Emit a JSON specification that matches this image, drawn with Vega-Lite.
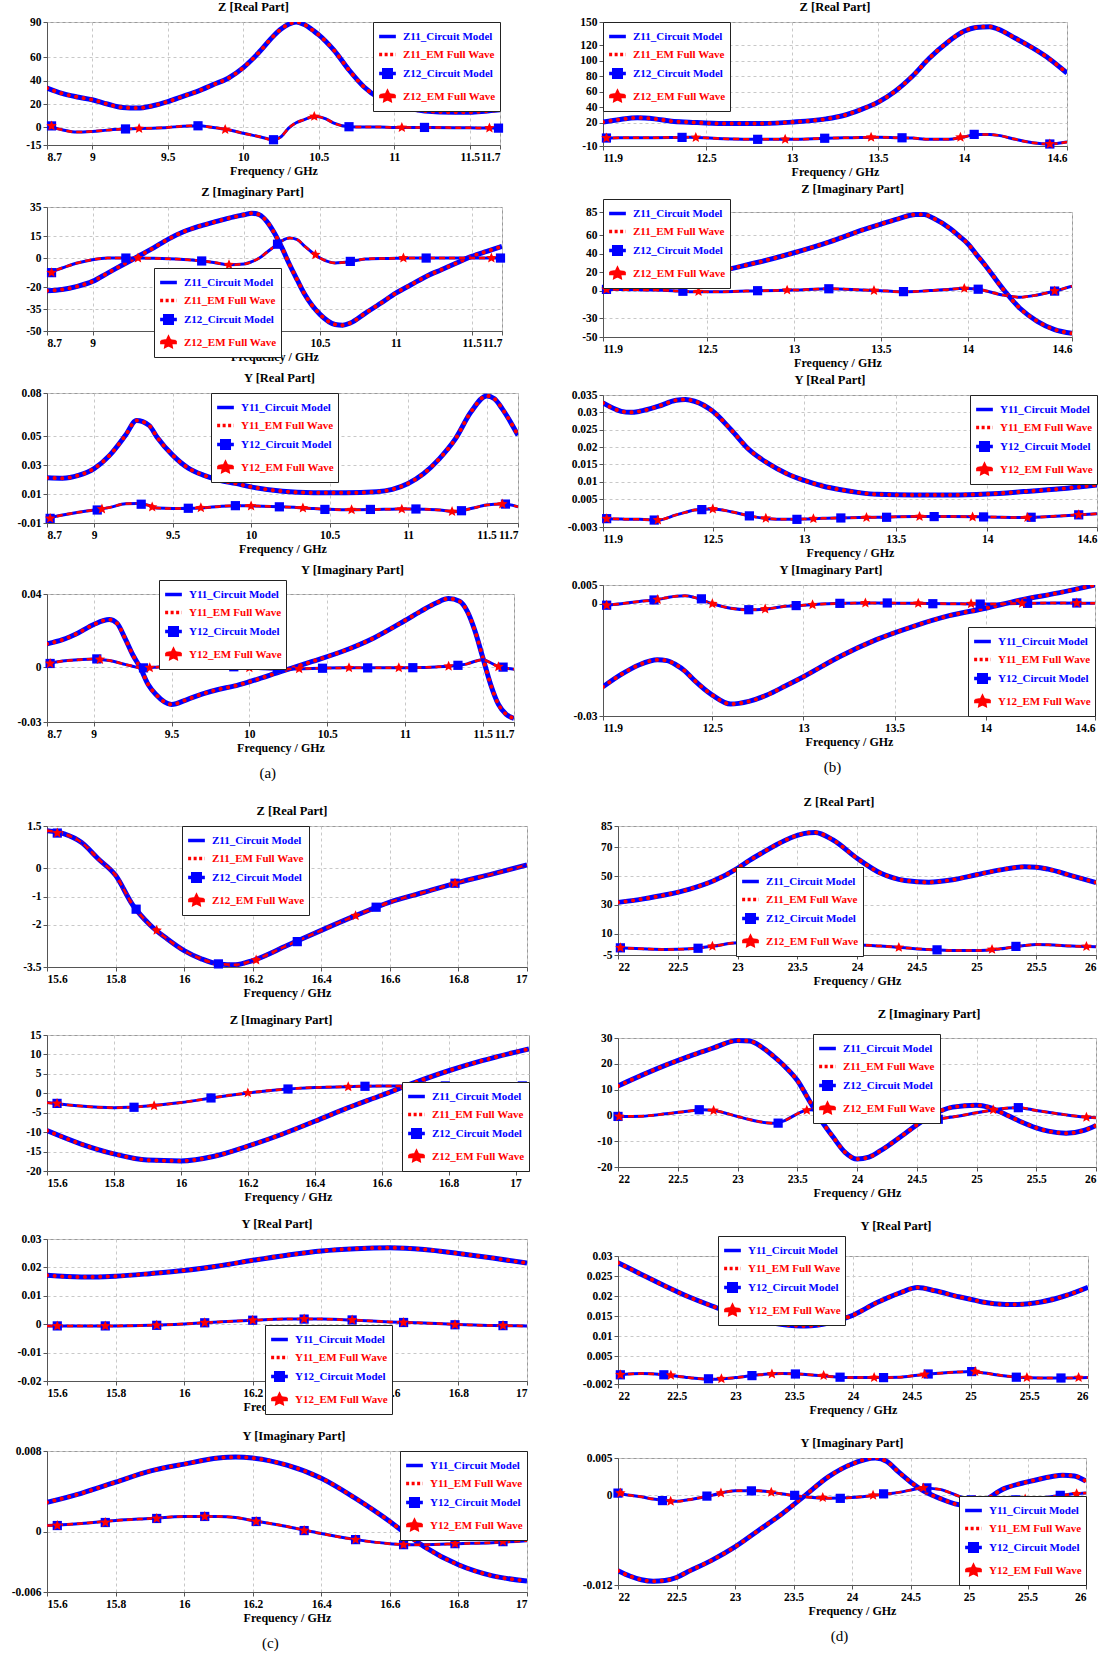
{
"$schema": "https://vega.github.io/schema/vega-lite/v6.json",
"background": "white",
"padding": {"left": 10, "top": 0, "right": 2, "bottom": 2},
"spacing": 14,
"resolve": {"scale": {"color": "independent"}, "legend": {"color": "independent"}},
"config": {
  "font": "Liberation Serif",
  "view": {"stroke": "#999"},
  "axis": {"labelFont": "Liberation Serif", "labelFontWeight": "bold", "labelFontSize": 11.5, "labelColor": "#000", "titleFont": "Liberation Serif", "titleFontWeight": "bold", "titleFontSize": 12, "titleColor": "#000", "domainColor": "#555", "tickColor": "#555", "tickSize": 4, "gridColor": "#c8c8c8", "gridDash": [3, 3], "labelPadding": 2, "titlePadding": 3, "labelOverlap": false},
  "title": {"font": "Liberation Serif", "fontWeight": "bold", "fontSize": 12.5, "offset": 3, "color": "#000"},
  "legend": {"labelFont": "Liberation Serif", "labelFontWeight": "bold", "labelFontSize": 11, "labelColor": "#0000ff", "strokeColor": "#222", "fillColor": "white", "padding": 4, "rowPadding": 0, "symbolSize": 280, "symbolStrokeWidth": 3.5, "symbolType": "stroke", "labelOffset": 5}
},
"vconcat": [
{"hconcat": [
 {"vconcat": [
  {"width": 453, "height": 123, "title": {"text": "Z [Real Part]", "dx": -20}, "data": {"name": "a1"},
   "encoding": {"x": {"field": "f", "type": "quantitative", "title": "Frequency / GHz", "scale": {"domain": [8.7, 11.7], "nice": false, "zero": false}, "axis": {"values": [8.7, 9, 9.5, 10, 10.5, 11, 11.5, 11.7], "labelExpr": "'' + datum.value", "labelOverlap": false}},
    "y": {"field": "v", "type": "quantitative", "title": null, "scale": {"domain": [-15, 90], "nice": false, "zero": false}, "axis": {"values": [-15, 0, 20, 40, 60, 90], "labelExpr": "'' + datum.value", "labelOverlap": false}}},
   "layer": [
    {"transform": [{"fold": ["v11"], "as": ["s", "v"]}], "mark": {"type": "line", "interpolate": "monotone", "strokeWidth": 5, "clip": true}, "encoding": {"color": {"datum": "Z11_Circuit Model", "type": "nominal", "scale": {"domain": ["Z11_Circuit Model", "Z11_EM Full Wave", "Z12_Circuit Model", "Z12_EM Full Wave"], "range": ["#0000ff", "#ff0000", "#0000ff", "#ff0000"]}, "legend": {"title": null, "orient": "top-right", "offset": 0, "direction": "vertical", "labelColor": {"expr": "indexof('' + (datum ? datum.value : ''), 'EM') >= 0 ? '#ff0000' : '#0000ff'"}, "symbolType": {"expr": "indexof('' + (datum ? datum.value : ''), '12_') < 0 ? 'stroke' : indexof('' + (datum ? datum.value : ''), 'EM') < 0 ? 'M-1,0H1M-0.45,-0.45H0.45V0.45H-0.45Z' : 'M-1,0H1M0,-0.5L0.147,-0.202L0.476,-0.155L0.238,0.077L0.294,0.405L0,0.25L-0.294,0.405L-0.238,0.077L-0.476,-0.155L-0.147,-0.202Z'"}, "symbolFillColor": {"expr": "indexof('' + (datum ? datum.value : ''), '12_') < 0 ? 'transparent' : indexof('' + (datum ? datum.value : ''), 'EM') >= 0 ? '#ff0000' : '#0000ff'"}, "symbolDash": {"expr": "indexof('' + (datum ? datum.value : ''), '11_EM') >= 0 ? [3, 2.5] : [1, 0]"}}}}},
    {"transform": [{"fold": ["v11"], "as": ["s", "v"]}], "mark": {"type": "line", "interpolate": "monotone", "strokeWidth": 4, "strokeDash": [0.1, 7.5], "strokeCap": "round", "clip": true}, "encoding": {"color": {"datum": "Z11_EM Full Wave", "type": "nominal"}}},
    {"transform": [{"fold": ["v12"], "as": ["s", "v"]}], "mark": {"type": "line", "interpolate": "monotone", "strokeWidth": 3, "clip": true}, "encoding": {"color": {"datum": "Z12_Circuit Model", "type": "nominal"}}},
    {"transform": [{"fold": ["v12"], "as": ["s", "v"]}], "mark": {"type": "line", "interpolate": "monotone", "strokeWidth": 2.5, "strokeDash": [6, 4], "clip": true}, "encoding": {"color": {"datum": "Z12_EM Full Wave", "type": "nominal"}}},
    {"data": {"name": "a1m"}, "transform": [{"filter": "datum.k == 's'"}], "mark": {"type": "point", "shape": "square", "filled": true, "size": 85, "opacity": 1}, "encoding": {"color": {"datum": "Z12_Circuit Model", "type": "nominal"}}},
    {"data": {"name": "a1m"}, "transform": [{"filter": "datum.k == 't'"}], "mark": {"type": "point", "shape": "M0,-1L0.265,-0.364L0.951,-0.309L0.428,0.139L0.588,0.809L0,0.45L-0.588,0.809L-0.428,0.139L-0.951,-0.309L-0.265,-0.364Z", "filled": true, "size": 121, "opacity": 1}, "encoding": {"color": {"datum": "Z12_EM Full Wave", "type": "nominal"}}}
   ]},
  {"width": 455, "height": 124, "title": {"text": "Z [Imaginary Part]", "dx": -22}, "data": {"name": "a2"},
   "encoding": {"x": {"field": "f", "type": "quantitative", "title": "Frequency / GHz", "scale": {"domain": [8.7, 11.7], "nice": false, "zero": false}, "axis": {"values": [8.7, 9, 9.5, 10, 10.5, 11, 11.5, 11.7], "labelExpr": "'' + datum.value", "labelOverlap": false}},
    "y": {"field": "v", "type": "quantitative", "title": null, "scale": {"domain": [-50, 35], "nice": false, "zero": false}, "axis": {"values": [-50, -35, -20, 0, 15, 35], "labelExpr": "'' + datum.value", "labelOverlap": false}}},
   "layer": [
    {"transform": [{"fold": ["v11"], "as": ["s", "v"]}], "mark": {"type": "line", "interpolate": "monotone", "strokeWidth": 5, "clip": true}, "encoding": {"color": {"datum": "Z11_Circuit Model", "type": "nominal", "scale": {"domain": ["Z11_Circuit Model", "Z11_EM Full Wave", "Z12_Circuit Model", "Z12_EM Full Wave"], "range": ["#0000ff", "#ff0000", "#0000ff", "#ff0000"]}, "legend": {"title": null, "orient": "none", "legendX": 107, "legendY": 61, "direction": "vertical", "labelColor": {"expr": "indexof('' + (datum ? datum.value : ''), 'EM') >= 0 ? '#ff0000' : '#0000ff'"}, "symbolType": {"expr": "indexof('' + (datum ? datum.value : ''), '12_') < 0 ? 'stroke' : indexof('' + (datum ? datum.value : ''), 'EM') < 0 ? 'M-1,0H1M-0.45,-0.45H0.45V0.45H-0.45Z' : 'M-1,0H1M0,-0.5L0.147,-0.202L0.476,-0.155L0.238,0.077L0.294,0.405L0,0.25L-0.294,0.405L-0.238,0.077L-0.476,-0.155L-0.147,-0.202Z'"}, "symbolFillColor": {"expr": "indexof('' + (datum ? datum.value : ''), '12_') < 0 ? 'transparent' : indexof('' + (datum ? datum.value : ''), 'EM') >= 0 ? '#ff0000' : '#0000ff'"}, "symbolDash": {"expr": "indexof('' + (datum ? datum.value : ''), '11_EM') >= 0 ? [3, 2.5] : [1, 0]"}}}}},
    {"transform": [{"fold": ["v11"], "as": ["s", "v"]}], "mark": {"type": "line", "interpolate": "monotone", "strokeWidth": 4, "strokeDash": [0.1, 7.5], "strokeCap": "round", "clip": true}, "encoding": {"color": {"datum": "Z11_EM Full Wave", "type": "nominal"}}},
    {"transform": [{"fold": ["v12"], "as": ["s", "v"]}], "mark": {"type": "line", "interpolate": "monotone", "strokeWidth": 3, "clip": true}, "encoding": {"color": {"datum": "Z12_Circuit Model", "type": "nominal"}}},
    {"transform": [{"fold": ["v12"], "as": ["s", "v"]}], "mark": {"type": "line", "interpolate": "monotone", "strokeWidth": 2.5, "strokeDash": [6, 4], "clip": true}, "encoding": {"color": {"datum": "Z12_EM Full Wave", "type": "nominal"}}},
    {"data": {"name": "a2m"}, "transform": [{"filter": "datum.k == 's'"}], "mark": {"type": "point", "shape": "square", "filled": true, "size": 85, "opacity": 1}, "encoding": {"color": {"datum": "Z12_Circuit Model", "type": "nominal"}}},
    {"data": {"name": "a2m"}, "transform": [{"filter": "datum.k == 't'"}], "mark": {"type": "point", "shape": "M0,-1L0.265,-0.364L0.951,-0.309L0.428,0.139L0.588,0.809L0,0.45L-0.588,0.809L-0.428,0.139L-0.951,-0.309L-0.265,-0.364Z", "filled": true, "size": 121, "opacity": 1}, "encoding": {"color": {"datum": "Z12_EM Full Wave", "type": "nominal"}}}
   ]},
  {"width": 471, "height": 130, "title": {"text": "Y [Real Part]", "dx": -3}, "data": {"name": "a3"},
   "encoding": {"x": {"field": "f", "type": "quantitative", "title": "Frequency / GHz", "scale": {"domain": [8.7, 11.7], "nice": false, "zero": false}, "axis": {"values": [8.7, 9, 9.5, 10, 10.5, 11, 11.5, 11.7], "labelExpr": "'' + datum.value", "labelOverlap": false}},
    "y": {"field": "v", "type": "quantitative", "title": null, "scale": {"domain": [-0.01, 0.08], "nice": false, "zero": false}, "axis": {"values": [-0.01, 0.01, 0.03, 0.05, 0.08], "labelExpr": "'' + datum.value", "labelOverlap": false}}},
   "layer": [
    {"transform": [{"fold": ["v11"], "as": ["s", "v"]}], "mark": {"type": "line", "interpolate": "monotone", "strokeWidth": 5, "clip": true}, "encoding": {"color": {"datum": "Y11_Circuit Model", "type": "nominal", "scale": {"domain": ["Y11_Circuit Model", "Y11_EM Full Wave", "Y12_Circuit Model", "Y12_EM Full Wave"], "range": ["#0000ff", "#ff0000", "#0000ff", "#ff0000"]}, "legend": {"title": null, "orient": "none", "legendX": 164, "legendY": 0, "direction": "vertical", "labelColor": {"expr": "indexof('' + (datum ? datum.value : ''), 'EM') >= 0 ? '#ff0000' : '#0000ff'"}, "symbolType": {"expr": "indexof('' + (datum ? datum.value : ''), '12_') < 0 ? 'stroke' : indexof('' + (datum ? datum.value : ''), 'EM') < 0 ? 'M-1,0H1M-0.45,-0.45H0.45V0.45H-0.45Z' : 'M-1,0H1M0,-0.5L0.147,-0.202L0.476,-0.155L0.238,0.077L0.294,0.405L0,0.25L-0.294,0.405L-0.238,0.077L-0.476,-0.155L-0.147,-0.202Z'"}, "symbolFillColor": {"expr": "indexof('' + (datum ? datum.value : ''), '12_') < 0 ? 'transparent' : indexof('' + (datum ? datum.value : ''), 'EM') >= 0 ? '#ff0000' : '#0000ff'"}, "symbolDash": {"expr": "indexof('' + (datum ? datum.value : ''), '11_EM') >= 0 ? [3, 2.5] : [1, 0]"}}}}},
    {"transform": [{"fold": ["v11"], "as": ["s", "v"]}], "mark": {"type": "line", "interpolate": "monotone", "strokeWidth": 4, "strokeDash": [0.1, 7.5], "strokeCap": "round", "clip": true}, "encoding": {"color": {"datum": "Y11_EM Full Wave", "type": "nominal"}}},
    {"transform": [{"fold": ["v12"], "as": ["s", "v"]}], "mark": {"type": "line", "interpolate": "monotone", "strokeWidth": 3, "clip": true}, "encoding": {"color": {"datum": "Y12_Circuit Model", "type": "nominal"}}},
    {"transform": [{"fold": ["v12"], "as": ["s", "v"]}], "mark": {"type": "line", "interpolate": "monotone", "strokeWidth": 2.5, "strokeDash": [6, 4], "clip": true}, "encoding": {"color": {"datum": "Y12_EM Full Wave", "type": "nominal"}}},
    {"data": {"name": "a3m"}, "transform": [{"filter": "datum.k == 's'"}], "mark": {"type": "point", "shape": "square", "filled": true, "size": 85, "opacity": 1}, "encoding": {"color": {"datum": "Y12_Circuit Model", "type": "nominal"}}},
    {"data": {"name": "a3m"}, "transform": [{"filter": "datum.k == 't'"}], "mark": {"type": "point", "shape": "M0,-1L0.265,-0.364L0.951,-0.309L0.428,0.139L0.588,0.809L0,0.45L-0.588,0.809L-0.428,0.139L-0.951,-0.309L-0.265,-0.364Z", "filled": true, "size": 121, "opacity": 1}, "encoding": {"color": {"datum": "Y12_EM Full Wave", "type": "nominal"}}}
   ]},
  {"width": 467, "height": 128, "title": {"text": "Y [Imaginary Part]", "dx": 72}, "data": {"name": "a4"},
   "encoding": {"x": {"field": "f", "type": "quantitative", "title": "Frequency / GHz", "scale": {"domain": [8.7, 11.7], "nice": false, "zero": false}, "axis": {"values": [8.7, 9, 9.5, 10, 10.5, 11, 11.5, 11.7], "labelExpr": "'' + datum.value", "labelOverlap": false}},
    "y": {"field": "v", "type": "quantitative", "title": null, "scale": {"domain": [-0.03, 0.04], "nice": false, "zero": false}, "axis": {"values": [-0.03, 0, 0.04], "labelExpr": "'' + datum.value", "labelOverlap": false}}},
   "layer": [
    {"transform": [{"fold": ["v11"], "as": ["s", "v"]}], "mark": {"type": "line", "interpolate": "monotone", "strokeWidth": 5, "clip": true}, "encoding": {"color": {"datum": "Y11_Circuit Model", "type": "nominal", "scale": {"domain": ["Y11_Circuit Model", "Y11_EM Full Wave", "Y12_Circuit Model", "Y12_EM Full Wave"], "range": ["#0000ff", "#ff0000", "#0000ff", "#ff0000"]}, "legend": {"title": null, "orient": "none", "legendX": 112, "legendY": -14, "direction": "vertical", "labelColor": {"expr": "indexof('' + (datum ? datum.value : ''), 'EM') >= 0 ? '#ff0000' : '#0000ff'"}, "symbolType": {"expr": "indexof('' + (datum ? datum.value : ''), '12_') < 0 ? 'stroke' : indexof('' + (datum ? datum.value : ''), 'EM') < 0 ? 'M-1,0H1M-0.45,-0.45H0.45V0.45H-0.45Z' : 'M-1,0H1M0,-0.5L0.147,-0.202L0.476,-0.155L0.238,0.077L0.294,0.405L0,0.25L-0.294,0.405L-0.238,0.077L-0.476,-0.155L-0.147,-0.202Z'"}, "symbolFillColor": {"expr": "indexof('' + (datum ? datum.value : ''), '12_') < 0 ? 'transparent' : indexof('' + (datum ? datum.value : ''), 'EM') >= 0 ? '#ff0000' : '#0000ff'"}, "symbolDash": {"expr": "indexof('' + (datum ? datum.value : ''), '11_EM') >= 0 ? [3, 2.5] : [1, 0]"}}}}},
    {"transform": [{"fold": ["v11"], "as": ["s", "v"]}], "mark": {"type": "line", "interpolate": "monotone", "strokeWidth": 4, "strokeDash": [0.1, 7.5], "strokeCap": "round", "clip": true}, "encoding": {"color": {"datum": "Y11_EM Full Wave", "type": "nominal"}}},
    {"transform": [{"fold": ["v12"], "as": ["s", "v"]}], "mark": {"type": "line", "interpolate": "monotone", "strokeWidth": 3, "clip": true}, "encoding": {"color": {"datum": "Y12_Circuit Model", "type": "nominal"}}},
    {"transform": [{"fold": ["v12"], "as": ["s", "v"]}], "mark": {"type": "line", "interpolate": "monotone", "strokeWidth": 2.5, "strokeDash": [6, 4], "clip": true}, "encoding": {"color": {"datum": "Y12_EM Full Wave", "type": "nominal"}}},
    {"data": {"name": "a4m"}, "transform": [{"filter": "datum.k == 's'"}], "mark": {"type": "point", "shape": "square", "filled": true, "size": 85, "opacity": 1}, "encoding": {"color": {"datum": "Y12_Circuit Model", "type": "nominal"}}},
    {"data": {"name": "a4m"}, "transform": [{"filter": "datum.k == 't'"}], "mark": {"type": "point", "shape": "M0,-1L0.265,-0.364L0.951,-0.309L0.428,0.139L0.588,0.809L0,0.45L-0.588,0.809L-0.428,0.139L-0.951,-0.309L-0.265,-0.364Z", "filled": true, "size": 121, "opacity": 1}, "encoding": {"color": {"datum": "Y12_EM Full Wave", "type": "nominal"}}}
   ]}
 ], "spacing": 8, "title": {"text": "(a)", "orient": "bottom", "anchor": "middle", "fontWeight": "normal", "fontSize": 15, "offset": 12}, "resolve": {"scale": {"color": "independent"}, "legend": {"color": "independent"}}},
 {"vconcat": [
  {"width": 464, "height": 124, "title": {"text": "Z [Real Part]"}, "data": {"name": "b1"},
   "encoding": {"x": {"field": "f", "type": "quantitative", "title": "Frequency / GHz", "scale": {"domain": [11.9, 14.6], "nice": false, "zero": false}, "axis": {"values": [11.9, 12.5, 13, 13.5, 14, 14.6], "labelExpr": "'' + datum.value", "labelOverlap": false}},
    "y": {"field": "v", "type": "quantitative", "title": null, "scale": {"domain": [-10, 150], "nice": false, "zero": false}, "axis": {"values": [-10, 20, 40, 60, 80, 100, 120, 150], "labelExpr": "'' + datum.value", "labelOverlap": false}}},
   "layer": [
    {"transform": [{"fold": ["v11"], "as": ["s", "v"]}], "mark": {"type": "line", "interpolate": "monotone", "strokeWidth": 5, "clip": true}, "encoding": {"color": {"datum": "Z11_Circuit Model", "type": "nominal", "scale": {"domain": ["Z11_Circuit Model", "Z11_EM Full Wave", "Z12_Circuit Model", "Z12_EM Full Wave"], "range": ["#0000ff", "#ff0000", "#0000ff", "#ff0000"]}, "legend": {"title": null, "orient": "top-left", "offset": 0, "direction": "vertical", "labelColor": {"expr": "indexof('' + (datum ? datum.value : ''), 'EM') >= 0 ? '#ff0000' : '#0000ff'"}, "symbolType": {"expr": "indexof('' + (datum ? datum.value : ''), '12_') < 0 ? 'stroke' : indexof('' + (datum ? datum.value : ''), 'EM') < 0 ? 'M-1,0H1M-0.45,-0.45H0.45V0.45H-0.45Z' : 'M-1,0H1M0,-0.5L0.147,-0.202L0.476,-0.155L0.238,0.077L0.294,0.405L0,0.25L-0.294,0.405L-0.238,0.077L-0.476,-0.155L-0.147,-0.202Z'"}, "symbolFillColor": {"expr": "indexof('' + (datum ? datum.value : ''), '12_') < 0 ? 'transparent' : indexof('' + (datum ? datum.value : ''), 'EM') >= 0 ? '#ff0000' : '#0000ff'"}, "symbolDash": {"expr": "indexof('' + (datum ? datum.value : ''), '11_EM') >= 0 ? [3, 2.5] : [1, 0]"}}}}},
    {"transform": [{"fold": ["v11"], "as": ["s", "v"]}], "mark": {"type": "line", "interpolate": "monotone", "strokeWidth": 4, "strokeDash": [0.1, 7.5], "strokeCap": "round", "clip": true}, "encoding": {"color": {"datum": "Z11_EM Full Wave", "type": "nominal"}}},
    {"transform": [{"fold": ["v12"], "as": ["s", "v"]}], "mark": {"type": "line", "interpolate": "monotone", "strokeWidth": 3, "clip": true}, "encoding": {"color": {"datum": "Z12_Circuit Model", "type": "nominal"}}},
    {"transform": [{"fold": ["v12"], "as": ["s", "v"]}], "mark": {"type": "line", "interpolate": "monotone", "strokeWidth": 2.5, "strokeDash": [6, 4], "clip": true}, "encoding": {"color": {"datum": "Z12_EM Full Wave", "type": "nominal"}}},
    {"data": {"name": "b1m"}, "transform": [{"filter": "datum.k == 's'"}], "mark": {"type": "point", "shape": "square", "filled": true, "size": 85, "opacity": 1}, "encoding": {"color": {"datum": "Z12_Circuit Model", "type": "nominal"}}},
    {"data": {"name": "b1m"}, "transform": [{"filter": "datum.k == 't'"}], "mark": {"type": "point", "shape": "M0,-1L0.265,-0.364L0.951,-0.309L0.428,0.139L0.588,0.809L0,0.45L-0.588,0.809L-0.428,0.139L-0.951,-0.309L-0.265,-0.364Z", "filled": true, "size": 121, "opacity": 1}, "encoding": {"color": {"datum": "Z12_EM Full Wave", "type": "nominal"}}}
   ]},
  {"width": 469, "height": 125, "title": {"text": "Z [Imaginary Part]", "dx": 15}, "data": {"name": "b2"},
   "encoding": {"x": {"field": "f", "type": "quantitative", "title": "Frequency / GHz", "scale": {"domain": [11.9, 14.6], "nice": false, "zero": false}, "axis": {"values": [11.9, 12.5, 13, 13.5, 14, 14.6], "labelExpr": "'' + datum.value", "labelOverlap": false}},
    "y": {"field": "v", "type": "quantitative", "title": null, "scale": {"domain": [-50, 85], "nice": false, "zero": false}, "axis": {"values": [-50, -30, 0, 20, 40, 60, 85], "labelExpr": "'' + datum.value", "labelOverlap": false}}},
   "layer": [
    {"transform": [{"fold": ["v11"], "as": ["s", "v"]}], "mark": {"type": "line", "interpolate": "monotone", "strokeWidth": 5, "clip": true}, "encoding": {"color": {"datum": "Z11_Circuit Model", "type": "nominal", "scale": {"domain": ["Z11_Circuit Model", "Z11_EM Full Wave", "Z12_Circuit Model", "Z12_EM Full Wave"], "range": ["#0000ff", "#ff0000", "#0000ff", "#ff0000"]}, "legend": {"title": null, "orient": "none", "legendX": 0, "legendY": -13, "direction": "vertical", "labelColor": {"expr": "indexof('' + (datum ? datum.value : ''), 'EM') >= 0 ? '#ff0000' : '#0000ff'"}, "symbolType": {"expr": "indexof('' + (datum ? datum.value : ''), '12_') < 0 ? 'stroke' : indexof('' + (datum ? datum.value : ''), 'EM') < 0 ? 'M-1,0H1M-0.45,-0.45H0.45V0.45H-0.45Z' : 'M-1,0H1M0,-0.5L0.147,-0.202L0.476,-0.155L0.238,0.077L0.294,0.405L0,0.25L-0.294,0.405L-0.238,0.077L-0.476,-0.155L-0.147,-0.202Z'"}, "symbolFillColor": {"expr": "indexof('' + (datum ? datum.value : ''), '12_') < 0 ? 'transparent' : indexof('' + (datum ? datum.value : ''), 'EM') >= 0 ? '#ff0000' : '#0000ff'"}, "symbolDash": {"expr": "indexof('' + (datum ? datum.value : ''), '11_EM') >= 0 ? [3, 2.5] : [1, 0]"}}}}},
    {"transform": [{"fold": ["v11"], "as": ["s", "v"]}], "mark": {"type": "line", "interpolate": "monotone", "strokeWidth": 4, "strokeDash": [0.1, 7.5], "strokeCap": "round", "clip": true}, "encoding": {"color": {"datum": "Z11_EM Full Wave", "type": "nominal"}}},
    {"transform": [{"fold": ["v12"], "as": ["s", "v"]}], "mark": {"type": "line", "interpolate": "monotone", "strokeWidth": 3, "clip": true}, "encoding": {"color": {"datum": "Z12_Circuit Model", "type": "nominal"}}},
    {"transform": [{"fold": ["v12"], "as": ["s", "v"]}], "mark": {"type": "line", "interpolate": "monotone", "strokeWidth": 2.5, "strokeDash": [6, 4], "clip": true}, "encoding": {"color": {"datum": "Z12_EM Full Wave", "type": "nominal"}}},
    {"data": {"name": "b2m"}, "transform": [{"filter": "datum.k == 's'"}], "mark": {"type": "point", "shape": "square", "filled": true, "size": 85, "opacity": 1}, "encoding": {"color": {"datum": "Z12_Circuit Model", "type": "nominal"}}},
    {"data": {"name": "b2m"}, "transform": [{"filter": "datum.k == 't'"}], "mark": {"type": "point", "shape": "M0,-1L0.265,-0.364L0.951,-0.309L0.428,0.139L0.588,0.809L0,0.45L-0.588,0.809L-0.428,0.139L-0.951,-0.309L-0.265,-0.364Z", "filled": true, "size": 121, "opacity": 1}, "encoding": {"color": {"datum": "Z12_EM Full Wave", "type": "nominal"}}}
   ]},
  {"width": 494, "height": 132, "title": {"text": "Y [Real Part]", "dx": -20}, "data": {"name": "b3"},
   "encoding": {"x": {"field": "f", "type": "quantitative", "title": "Frequency / GHz", "scale": {"domain": [11.9, 14.6], "nice": false, "zero": false}, "axis": {"values": [11.9, 12.5, 13, 13.5, 14, 14.6], "labelExpr": "'' + datum.value", "labelOverlap": false}},
    "y": {"field": "v", "type": "quantitative", "title": null, "scale": {"domain": [-0.003, 0.035], "nice": false, "zero": false}, "axis": {"values": [-0.003, 0.005, 0.01, 0.015, 0.02, 0.025, 0.03, 0.035], "labelExpr": "'' + datum.value", "labelOverlap": false}}},
   "layer": [
    {"transform": [{"fold": ["v11"], "as": ["s", "v"]}], "mark": {"type": "line", "interpolate": "monotone", "strokeWidth": 5, "clip": true}, "encoding": {"color": {"datum": "Y11_Circuit Model", "type": "nominal", "scale": {"domain": ["Y11_Circuit Model", "Y11_EM Full Wave", "Y12_Circuit Model", "Y12_EM Full Wave"], "range": ["#0000ff", "#ff0000", "#0000ff", "#ff0000"]}, "legend": {"title": null, "orient": "top-right", "offset": 0, "direction": "vertical", "labelColor": {"expr": "indexof('' + (datum ? datum.value : ''), 'EM') >= 0 ? '#ff0000' : '#0000ff'"}, "symbolType": {"expr": "indexof('' + (datum ? datum.value : ''), '12_') < 0 ? 'stroke' : indexof('' + (datum ? datum.value : ''), 'EM') < 0 ? 'M-1,0H1M-0.45,-0.45H0.45V0.45H-0.45Z' : 'M-1,0H1M0,-0.5L0.147,-0.202L0.476,-0.155L0.238,0.077L0.294,0.405L0,0.25L-0.294,0.405L-0.238,0.077L-0.476,-0.155L-0.147,-0.202Z'"}, "symbolFillColor": {"expr": "indexof('' + (datum ? datum.value : ''), '12_') < 0 ? 'transparent' : indexof('' + (datum ? datum.value : ''), 'EM') >= 0 ? '#ff0000' : '#0000ff'"}, "symbolDash": {"expr": "indexof('' + (datum ? datum.value : ''), '11_EM') >= 0 ? [3, 2.5] : [1, 0]"}}}}},
    {"transform": [{"fold": ["v11"], "as": ["s", "v"]}], "mark": {"type": "line", "interpolate": "monotone", "strokeWidth": 4, "strokeDash": [0.1, 7.5], "strokeCap": "round", "clip": true}, "encoding": {"color": {"datum": "Y11_EM Full Wave", "type": "nominal"}}},
    {"transform": [{"fold": ["v12"], "as": ["s", "v"]}], "mark": {"type": "line", "interpolate": "monotone", "strokeWidth": 3, "clip": true}, "encoding": {"color": {"datum": "Y12_Circuit Model", "type": "nominal"}}},
    {"transform": [{"fold": ["v12"], "as": ["s", "v"]}], "mark": {"type": "line", "interpolate": "monotone", "strokeWidth": 2.5, "strokeDash": [6, 4], "clip": true}, "encoding": {"color": {"datum": "Y12_EM Full Wave", "type": "nominal"}}},
    {"data": {"name": "b3m"}, "transform": [{"filter": "datum.k == 's'"}], "mark": {"type": "point", "shape": "square", "filled": true, "size": 85, "opacity": 1}, "encoding": {"color": {"datum": "Y12_Circuit Model", "type": "nominal"}}},
    {"data": {"name": "b3m"}, "transform": [{"filter": "datum.k == 't'"}], "mark": {"type": "point", "shape": "M0,-1L0.265,-0.364L0.951,-0.309L0.428,0.139L0.588,0.809L0,0.45L-0.588,0.809L-0.428,0.139L-0.951,-0.309L-0.265,-0.364Z", "filled": true, "size": 121, "opacity": 1}, "encoding": {"color": {"datum": "Y12_EM Full Wave", "type": "nominal"}}}
   ]},
  {"width": 492, "height": 131, "title": {"text": "Y [Imaginary Part]", "dx": -18}, "data": {"name": "b4"},
   "encoding": {"x": {"field": "f", "type": "quantitative", "title": "Frequency / GHz", "scale": {"domain": [11.9, 14.6], "nice": false, "zero": false}, "axis": {"values": [11.9, 12.5, 13, 13.5, 14, 14.6], "labelExpr": "'' + datum.value", "labelOverlap": false}},
    "y": {"field": "v", "type": "quantitative", "title": null, "scale": {"domain": [-0.03, 0.005], "nice": false, "zero": false}, "axis": {"values": [-0.03, 0, 0.005], "labelExpr": "'' + datum.value", "labelOverlap": false}}},
   "layer": [
    {"transform": [{"fold": ["v11"], "as": ["s", "v"]}], "mark": {"type": "line", "interpolate": "monotone", "strokeWidth": 5, "clip": true}, "encoding": {"color": {"datum": "Y11_Circuit Model", "type": "nominal", "scale": {"domain": ["Y11_Circuit Model", "Y11_EM Full Wave", "Y12_Circuit Model", "Y12_EM Full Wave"], "range": ["#0000ff", "#ff0000", "#0000ff", "#ff0000"]}, "legend": {"title": null, "orient": "bottom-right", "offset": 0, "direction": "vertical", "labelColor": {"expr": "indexof('' + (datum ? datum.value : ''), 'EM') >= 0 ? '#ff0000' : '#0000ff'"}, "symbolType": {"expr": "indexof('' + (datum ? datum.value : ''), '12_') < 0 ? 'stroke' : indexof('' + (datum ? datum.value : ''), 'EM') < 0 ? 'M-1,0H1M-0.45,-0.45H0.45V0.45H-0.45Z' : 'M-1,0H1M0,-0.5L0.147,-0.202L0.476,-0.155L0.238,0.077L0.294,0.405L0,0.25L-0.294,0.405L-0.238,0.077L-0.476,-0.155L-0.147,-0.202Z'"}, "symbolFillColor": {"expr": "indexof('' + (datum ? datum.value : ''), '12_') < 0 ? 'transparent' : indexof('' + (datum ? datum.value : ''), 'EM') >= 0 ? '#ff0000' : '#0000ff'"}, "symbolDash": {"expr": "indexof('' + (datum ? datum.value : ''), '11_EM') >= 0 ? [3, 2.5] : [1, 0]"}}}}},
    {"transform": [{"fold": ["v11"], "as": ["s", "v"]}], "mark": {"type": "line", "interpolate": "monotone", "strokeWidth": 4, "strokeDash": [0.1, 7.5], "strokeCap": "round", "clip": true}, "encoding": {"color": {"datum": "Y11_EM Full Wave", "type": "nominal"}}},
    {"transform": [{"fold": ["v12"], "as": ["s", "v"]}], "mark": {"type": "line", "interpolate": "monotone", "strokeWidth": 3, "clip": true}, "encoding": {"color": {"datum": "Y12_Circuit Model", "type": "nominal"}}},
    {"transform": [{"fold": ["v12"], "as": ["s", "v"]}], "mark": {"type": "line", "interpolate": "monotone", "strokeWidth": 2.5, "strokeDash": [6, 4], "clip": true}, "encoding": {"color": {"datum": "Y12_EM Full Wave", "type": "nominal"}}},
    {"data": {"name": "b4m"}, "transform": [{"filter": "datum.k == 's'"}], "mark": {"type": "point", "shape": "square", "filled": true, "size": 85, "opacity": 1}, "encoding": {"color": {"datum": "Y12_Circuit Model", "type": "nominal"}}},
    {"data": {"name": "b4m"}, "transform": [{"filter": "datum.k == 't'"}], "mark": {"type": "point", "shape": "M0,-1L0.265,-0.364L0.951,-0.309L0.428,0.139L0.588,0.809L0,0.45L-0.588,0.809L-0.428,0.139L-0.951,-0.309L-0.265,-0.364Z", "filled": true, "size": 121, "opacity": 1}, "encoding": {"color": {"datum": "Y12_EM Full Wave", "type": "nominal"}}}
   ]}
 ], "spacing": 4, "title": {"text": "(b)", "orient": "bottom", "anchor": "middle", "fontWeight": "normal", "fontSize": 15, "offset": 12}, "resolve": {"scale": {"color": "independent"}, "legend": {"color": "independent"}}}
], "spacing": 47, "resolve": {"scale": {"color": "independent"}, "legend": {"color": "independent"}}},
{"hconcat": [
 {"vconcat": [
  {"width": 480, "height": 141, "title": {"text": "Z [Real Part]", "dx": 5}, "data": {"name": "c1"},
   "encoding": {"x": {"field": "f", "type": "quantitative", "title": "Frequency / GHz", "scale": {"domain": [15.6, 17], "nice": false, "zero": false}, "axis": {"values": [15.6, 15.8, 16, 16.2, 16.4, 16.6, 16.8, 17], "labelExpr": "'' + datum.value", "labelOverlap": false}},
    "y": {"field": "v", "type": "quantitative", "title": null, "scale": {"domain": [-3.5, 1.5], "nice": false, "zero": false}, "axis": {"values": [-3.5, -2, -1, 0, 1.5], "labelExpr": "'' + datum.value", "labelOverlap": false}}},
   "layer": [
    {"transform": [{"fold": ["v11"], "as": ["s", "v"]}], "mark": {"type": "line", "interpolate": "monotone", "strokeWidth": 5, "clip": true}, "encoding": {"color": {"datum": "Z11_Circuit Model", "type": "nominal", "scale": {"domain": ["Z11_Circuit Model", "Z11_EM Full Wave", "Z12_Circuit Model", "Z12_EM Full Wave"], "range": ["#0000ff", "#ff0000", "#0000ff", "#ff0000"]}, "legend": {"title": null, "orient": "none", "legendX": 135, "legendY": 0, "direction": "vertical", "labelColor": {"expr": "indexof('' + (datum ? datum.value : ''), 'EM') >= 0 ? '#ff0000' : '#0000ff'"}, "symbolType": {"expr": "indexof('' + (datum ? datum.value : ''), '12_') < 0 ? 'stroke' : indexof('' + (datum ? datum.value : ''), 'EM') < 0 ? 'M-1,0H1M-0.45,-0.45H0.45V0.45H-0.45Z' : 'M-1,0H1M0,-0.5L0.147,-0.202L0.476,-0.155L0.238,0.077L0.294,0.405L0,0.25L-0.294,0.405L-0.238,0.077L-0.476,-0.155L-0.147,-0.202Z'"}, "symbolFillColor": {"expr": "indexof('' + (datum ? datum.value : ''), '12_') < 0 ? 'transparent' : indexof('' + (datum ? datum.value : ''), 'EM') >= 0 ? '#ff0000' : '#0000ff'"}, "symbolDash": {"expr": "indexof('' + (datum ? datum.value : ''), '11_EM') >= 0 ? [3, 2.5] : [1, 0]"}}}}},
    {"transform": [{"fold": ["v11"], "as": ["s", "v"]}], "mark": {"type": "line", "interpolate": "monotone", "strokeWidth": 4, "strokeDash": [0.1, 7.5], "strokeCap": "round", "clip": true}, "encoding": {"color": {"datum": "Z11_EM Full Wave", "type": "nominal"}}},
    {"transform": [{"fold": ["v12"], "as": ["s", "v"]}], "mark": {"type": "line", "interpolate": "monotone", "strokeWidth": 3, "clip": true}, "encoding": {"color": {"datum": "Z12_Circuit Model", "type": "nominal"}}},
    {"transform": [{"fold": ["v12"], "as": ["s", "v"]}], "mark": {"type": "line", "interpolate": "monotone", "strokeWidth": 2.5, "strokeDash": [6, 4], "clip": true}, "encoding": {"color": {"datum": "Z12_EM Full Wave", "type": "nominal"}}},
    {"data": {"name": "c1m"}, "transform": [{"filter": "datum.k == 's'"}], "mark": {"type": "point", "shape": "square", "filled": true, "size": 85, "opacity": 1}, "encoding": {"color": {"datum": "Z12_Circuit Model", "type": "nominal"}}},
    {"data": {"name": "c1m"}, "transform": [{"filter": "datum.k == 't'"}], "mark": {"type": "point", "shape": "M0,-1L0.265,-0.364L0.951,-0.309L0.428,0.139L0.588,0.809L0,0.45L-0.588,0.809L-0.428,0.139L-0.951,-0.309L-0.265,-0.364Z", "filled": true, "size": 121, "opacity": 1}, "encoding": {"color": {"datum": "Z12_EM Full Wave", "type": "nominal"}}}
   ]},
  {"width": 482, "height": 136, "title": {"text": "Z [Imaginary Part]", "dx": -7}, "data": {"name": "c2"},
   "encoding": {"x": {"field": "f", "type": "quantitative", "title": "Frequency / GHz", "scale": {"domain": [15.6, 17.04], "nice": false, "zero": false}, "axis": {"values": [15.6, 15.8, 16, 16.2, 16.4, 16.6, 16.8, 17], "labelExpr": "'' + datum.value", "labelOverlap": false}},
    "y": {"field": "v", "type": "quantitative", "title": null, "scale": {"domain": [-20, 15], "nice": false, "zero": false}, "axis": {"values": [-20, -15, -10, -5, 0, 5, 10, 15], "labelExpr": "'' + datum.value", "labelOverlap": false}}},
   "layer": [
    {"transform": [{"fold": ["v11"], "as": ["s", "v"]}], "mark": {"type": "line", "interpolate": "monotone", "strokeWidth": 5, "clip": true}, "encoding": {"color": {"datum": "Z11_Circuit Model", "type": "nominal", "scale": {"domain": ["Z11_Circuit Model", "Z11_EM Full Wave", "Z12_Circuit Model", "Z12_EM Full Wave"], "range": ["#0000ff", "#ff0000", "#0000ff", "#ff0000"]}, "legend": {"title": null, "orient": "bottom-right", "offset": 0, "direction": "vertical", "labelColor": {"expr": "indexof('' + (datum ? datum.value : ''), 'EM') >= 0 ? '#ff0000' : '#0000ff'"}, "symbolType": {"expr": "indexof('' + (datum ? datum.value : ''), '12_') < 0 ? 'stroke' : indexof('' + (datum ? datum.value : ''), 'EM') < 0 ? 'M-1,0H1M-0.45,-0.45H0.45V0.45H-0.45Z' : 'M-1,0H1M0,-0.5L0.147,-0.202L0.476,-0.155L0.238,0.077L0.294,0.405L0,0.25L-0.294,0.405L-0.238,0.077L-0.476,-0.155L-0.147,-0.202Z'"}, "symbolFillColor": {"expr": "indexof('' + (datum ? datum.value : ''), '12_') < 0 ? 'transparent' : indexof('' + (datum ? datum.value : ''), 'EM') >= 0 ? '#ff0000' : '#0000ff'"}, "symbolDash": {"expr": "indexof('' + (datum ? datum.value : ''), '11_EM') >= 0 ? [3, 2.5] : [1, 0]"}}}}},
    {"transform": [{"fold": ["v11"], "as": ["s", "v"]}], "mark": {"type": "line", "interpolate": "monotone", "strokeWidth": 4, "strokeDash": [0.1, 7.5], "strokeCap": "round", "clip": true}, "encoding": {"color": {"datum": "Z11_EM Full Wave", "type": "nominal"}}},
    {"transform": [{"fold": ["v12"], "as": ["s", "v"]}], "mark": {"type": "line", "interpolate": "monotone", "strokeWidth": 3, "clip": true}, "encoding": {"color": {"datum": "Z12_Circuit Model", "type": "nominal"}}},
    {"transform": [{"fold": ["v12"], "as": ["s", "v"]}], "mark": {"type": "line", "interpolate": "monotone", "strokeWidth": 2.5, "strokeDash": [6, 4], "clip": true}, "encoding": {"color": {"datum": "Z12_EM Full Wave", "type": "nominal"}}},
    {"data": {"name": "c2m"}, "transform": [{"filter": "datum.k == 's'"}], "mark": {"type": "point", "shape": "square", "filled": true, "size": 85, "opacity": 1}, "encoding": {"color": {"datum": "Z12_Circuit Model", "type": "nominal"}}},
    {"data": {"name": "c2m"}, "transform": [{"filter": "datum.k == 't'"}], "mark": {"type": "point", "shape": "M0,-1L0.265,-0.364L0.951,-0.309L0.428,0.139L0.588,0.809L0,0.45L-0.588,0.809L-0.428,0.139L-0.951,-0.309L-0.265,-0.364Z", "filled": true, "size": 121, "opacity": 1}, "encoding": {"color": {"datum": "Z12_EM Full Wave", "type": "nominal"}}}
   ]},
  {"width": 480, "height": 142, "title": {"text": "Y [Real Part]", "dx": -10}, "data": {"name": "c3"},
   "encoding": {"x": {"field": "f", "type": "quantitative", "title": "Frequency / GHz", "scale": {"domain": [15.6, 17], "nice": false, "zero": false}, "axis": {"values": [15.6, 15.8, 16, 16.2, 16.4, 16.6, 16.8, 17], "labelExpr": "'' + datum.value", "labelOverlap": false}},
    "y": {"field": "v", "type": "quantitative", "title": null, "scale": {"domain": [-0.02, 0.03], "nice": false, "zero": false}, "axis": {"values": [-0.02, -0.01, 0, 0.01, 0.02, 0.03], "labelExpr": "'' + datum.value", "labelOverlap": false}}},
   "layer": [
    {"transform": [{"fold": ["v11"], "as": ["s", "v"]}], "mark": {"type": "line", "interpolate": "monotone", "strokeWidth": 5, "clip": true}, "encoding": {"color": {"datum": "Y11_Circuit Model", "type": "nominal", "scale": {"domain": ["Y11_Circuit Model", "Y11_EM Full Wave", "Y12_Circuit Model", "Y12_EM Full Wave"], "range": ["#0000ff", "#ff0000", "#0000ff", "#ff0000"]}, "legend": {"title": null, "orient": "none", "legendX": 218, "legendY": 86, "direction": "vertical", "labelColor": {"expr": "indexof('' + (datum ? datum.value : ''), 'EM') >= 0 ? '#ff0000' : '#0000ff'"}, "symbolType": {"expr": "indexof('' + (datum ? datum.value : ''), '12_') < 0 ? 'stroke' : indexof('' + (datum ? datum.value : ''), 'EM') < 0 ? 'M-1,0H1M-0.45,-0.45H0.45V0.45H-0.45Z' : 'M-1,0H1M0,-0.5L0.147,-0.202L0.476,-0.155L0.238,0.077L0.294,0.405L0,0.25L-0.294,0.405L-0.238,0.077L-0.476,-0.155L-0.147,-0.202Z'"}, "symbolFillColor": {"expr": "indexof('' + (datum ? datum.value : ''), '12_') < 0 ? 'transparent' : indexof('' + (datum ? datum.value : ''), 'EM') >= 0 ? '#ff0000' : '#0000ff'"}, "symbolDash": {"expr": "indexof('' + (datum ? datum.value : ''), '11_EM') >= 0 ? [3, 2.5] : [1, 0]"}}}}},
    {"transform": [{"fold": ["v11"], "as": ["s", "v"]}], "mark": {"type": "line", "interpolate": "monotone", "strokeWidth": 4, "strokeDash": [0.1, 7.5], "strokeCap": "round", "clip": true}, "encoding": {"color": {"datum": "Y11_EM Full Wave", "type": "nominal"}}},
    {"transform": [{"fold": ["v12"], "as": ["s", "v"]}], "mark": {"type": "line", "interpolate": "monotone", "strokeWidth": 3, "clip": true}, "encoding": {"color": {"datum": "Y12_Circuit Model", "type": "nominal"}}},
    {"transform": [{"fold": ["v12"], "as": ["s", "v"]}], "mark": {"type": "line", "interpolate": "monotone", "strokeWidth": 2.5, "strokeDash": [6, 4], "clip": true}, "encoding": {"color": {"datum": "Y12_EM Full Wave", "type": "nominal"}}},
    {"data": {"name": "c3m"}, "transform": [{"filter": "datum.k == 's'"}], "mark": {"type": "point", "shape": "square", "filled": true, "size": 85, "opacity": 1}, "encoding": {"color": {"datum": "Y12_Circuit Model", "type": "nominal"}}},
    {"data": {"name": "c3m"}, "transform": [{"filter": "datum.k == 't'"}], "mark": {"type": "point", "shape": "M0,-1L0.265,-0.364L0.951,-0.309L0.428,0.139L0.588,0.809L0,0.45L-0.588,0.809L-0.428,0.139L-0.951,-0.309L-0.265,-0.364Z", "filled": true, "size": 121, "opacity": 1}, "encoding": {"color": {"datum": "Y12_EM Full Wave", "type": "nominal"}}}
   ]},
  {"width": 480, "height": 141, "title": {"text": "Y [Imaginary Part]", "dx": 7}, "data": {"name": "c4"},
   "encoding": {"x": {"field": "f", "type": "quantitative", "title": "Frequency / GHz", "scale": {"domain": [15.6, 17], "nice": false, "zero": false}, "axis": {"values": [15.6, 15.8, 16, 16.2, 16.4, 16.6, 16.8, 17], "labelExpr": "'' + datum.value", "labelOverlap": false}},
    "y": {"field": "v", "type": "quantitative", "title": null, "scale": {"domain": [-0.006, 0.008], "nice": false, "zero": false}, "axis": {"values": [-0.006, 0, 0.008], "labelExpr": "'' + datum.value", "labelOverlap": false}}},
   "layer": [
    {"transform": [{"fold": ["v11"], "as": ["s", "v"]}], "mark": {"type": "line", "interpolate": "monotone", "strokeWidth": 5, "clip": true}, "encoding": {"color": {"datum": "Y11_Circuit Model", "type": "nominal", "scale": {"domain": ["Y11_Circuit Model", "Y11_EM Full Wave", "Y12_Circuit Model", "Y12_EM Full Wave"], "range": ["#0000ff", "#ff0000", "#0000ff", "#ff0000"]}, "legend": {"title": null, "orient": "top-right", "offset": 0, "direction": "vertical", "labelColor": {"expr": "indexof('' + (datum ? datum.value : ''), 'EM') >= 0 ? '#ff0000' : '#0000ff'"}, "symbolType": {"expr": "indexof('' + (datum ? datum.value : ''), '12_') < 0 ? 'stroke' : indexof('' + (datum ? datum.value : ''), 'EM') < 0 ? 'M-1,0H1M-0.45,-0.45H0.45V0.45H-0.45Z' : 'M-1,0H1M0,-0.5L0.147,-0.202L0.476,-0.155L0.238,0.077L0.294,0.405L0,0.25L-0.294,0.405L-0.238,0.077L-0.476,-0.155L-0.147,-0.202Z'"}, "symbolFillColor": {"expr": "indexof('' + (datum ? datum.value : ''), '12_') < 0 ? 'transparent' : indexof('' + (datum ? datum.value : ''), 'EM') >= 0 ? '#ff0000' : '#0000ff'"}, "symbolDash": {"expr": "indexof('' + (datum ? datum.value : ''), '11_EM') >= 0 ? [3, 2.5] : [1, 0]"}}}}},
    {"transform": [{"fold": ["v11"], "as": ["s", "v"]}], "mark": {"type": "line", "interpolate": "monotone", "strokeWidth": 4, "strokeDash": [0.1, 7.5], "strokeCap": "round", "clip": true}, "encoding": {"color": {"datum": "Y11_EM Full Wave", "type": "nominal"}}},
    {"transform": [{"fold": ["v12"], "as": ["s", "v"]}], "mark": {"type": "line", "interpolate": "monotone", "strokeWidth": 3, "clip": true}, "encoding": {"color": {"datum": "Y12_Circuit Model", "type": "nominal"}}},
    {"transform": [{"fold": ["v12"], "as": ["s", "v"]}], "mark": {"type": "line", "interpolate": "monotone", "strokeWidth": 2.5, "strokeDash": [6, 4], "clip": true}, "encoding": {"color": {"datum": "Y12_EM Full Wave", "type": "nominal"}}},
    {"data": {"name": "c4m"}, "transform": [{"filter": "datum.k == 's'"}], "mark": {"type": "point", "shape": "square", "filled": true, "size": 85, "opacity": 1}, "encoding": {"color": {"datum": "Y12_Circuit Model", "type": "nominal"}}},
    {"data": {"name": "c4m"}, "transform": [{"filter": "datum.k == 't'"}], "mark": {"type": "point", "shape": "M0,-1L0.265,-0.364L0.951,-0.309L0.428,0.139L0.588,0.809L0,0.45L-0.588,0.809L-0.428,0.139L-0.951,-0.309L-0.265,-0.364Z", "filled": true, "size": 121, "opacity": 1}, "encoding": {"color": {"datum": "Y12_EM Full Wave", "type": "nominal"}}}
   ]}
 ], "spacing": 14, "title": {"text": "(c)", "orient": "bottom", "anchor": "middle", "fontWeight": "normal", "fontSize": 15, "offset": 12}, "resolve": {"scale": {"color": "independent"}, "legend": {"color": "independent"}}},
 {"vconcat": [
  {"width": 478, "height": 129, "title": {"text": "Z [Real Part]", "dx": -18, "offset": 12}, "data": {"name": "d1"},
   "encoding": {"x": {"field": "f", "type": "quantitative", "title": "Frequency / GHz", "scale": {"domain": [22, 26], "nice": false, "zero": false}, "axis": {"values": [22, 22.5, 23, 23.5, 24, 24.5, 25, 25.5, 26], "labelExpr": "'' + datum.value", "labelOverlap": false}},
    "y": {"field": "v", "type": "quantitative", "title": null, "scale": {"domain": [-5, 85], "nice": false, "zero": false}, "axis": {"values": [-5, 10, 30, 50, 70, 85], "labelExpr": "'' + datum.value", "labelOverlap": false}}},
   "layer": [
    {"transform": [{"fold": ["v11"], "as": ["s", "v"]}], "mark": {"type": "line", "interpolate": "monotone", "strokeWidth": 5, "clip": true}, "encoding": {"color": {"datum": "Z11_Circuit Model", "type": "nominal", "scale": {"domain": ["Z11_Circuit Model", "Z11_EM Full Wave", "Z12_Circuit Model", "Z12_EM Full Wave"], "range": ["#0000ff", "#ff0000", "#0000ff", "#ff0000"]}, "legend": {"title": null, "orient": "none", "legendX": 118, "legendY": 41, "direction": "vertical", "labelColor": {"expr": "indexof('' + (datum ? datum.value : ''), 'EM') >= 0 ? '#ff0000' : '#0000ff'"}, "symbolType": {"expr": "indexof('' + (datum ? datum.value : ''), '12_') < 0 ? 'stroke' : indexof('' + (datum ? datum.value : ''), 'EM') < 0 ? 'M-1,0H1M-0.45,-0.45H0.45V0.45H-0.45Z' : 'M-1,0H1M0,-0.5L0.147,-0.202L0.476,-0.155L0.238,0.077L0.294,0.405L0,0.25L-0.294,0.405L-0.238,0.077L-0.476,-0.155L-0.147,-0.202Z'"}, "symbolFillColor": {"expr": "indexof('' + (datum ? datum.value : ''), '12_') < 0 ? 'transparent' : indexof('' + (datum ? datum.value : ''), 'EM') >= 0 ? '#ff0000' : '#0000ff'"}, "symbolDash": {"expr": "indexof('' + (datum ? datum.value : ''), '11_EM') >= 0 ? [3, 2.5] : [1, 0]"}}}}},
    {"transform": [{"fold": ["v11"], "as": ["s", "v"]}], "mark": {"type": "line", "interpolate": "monotone", "strokeWidth": 4, "strokeDash": [0.1, 7.5], "strokeCap": "round", "clip": true}, "encoding": {"color": {"datum": "Z11_EM Full Wave", "type": "nominal"}}},
    {"transform": [{"fold": ["v12"], "as": ["s", "v"]}], "mark": {"type": "line", "interpolate": "monotone", "strokeWidth": 3, "clip": true}, "encoding": {"color": {"datum": "Z12_Circuit Model", "type": "nominal"}}},
    {"transform": [{"fold": ["v12"], "as": ["s", "v"]}], "mark": {"type": "line", "interpolate": "monotone", "strokeWidth": 2.5, "strokeDash": [6, 4], "clip": true}, "encoding": {"color": {"datum": "Z12_EM Full Wave", "type": "nominal"}}},
    {"data": {"name": "d1m"}, "transform": [{"filter": "datum.k == 's'"}], "mark": {"type": "point", "shape": "square", "filled": true, "size": 85, "opacity": 1}, "encoding": {"color": {"datum": "Z12_Circuit Model", "type": "nominal"}}},
    {"data": {"name": "d1m"}, "transform": [{"filter": "datum.k == 't'"}], "mark": {"type": "point", "shape": "M0,-1L0.265,-0.364L0.951,-0.309L0.428,0.139L0.588,0.809L0,0.45L-0.588,0.809L-0.428,0.139L-0.951,-0.309L-0.265,-0.364Z", "filled": true, "size": 121, "opacity": 1}, "encoding": {"color": {"datum": "Z12_EM Full Wave", "type": "nominal"}}}
   ]},
  {"width": 478, "height": 129, "title": {"text": "Z [Imaginary Part]", "dx": 72, "offset": 12}, "data": {"name": "d2"},
   "encoding": {"x": {"field": "f", "type": "quantitative", "title": "Frequency / GHz", "scale": {"domain": [22, 26], "nice": false, "zero": false}, "axis": {"values": [22, 22.5, 23, 23.5, 24, 24.5, 25, 25.5, 26], "labelExpr": "'' + datum.value", "labelOverlap": false}},
    "y": {"field": "v", "type": "quantitative", "title": null, "scale": {"domain": [-20, 30], "nice": false, "zero": false}, "axis": {"values": [-20, -10, 0, 10, 20, 30], "labelExpr": "'' + datum.value", "labelOverlap": false}}},
   "layer": [
    {"transform": [{"fold": ["v11"], "as": ["s", "v"]}], "mark": {"type": "line", "interpolate": "monotone", "strokeWidth": 5, "clip": true}, "encoding": {"color": {"datum": "Z11_Circuit Model", "type": "nominal", "scale": {"domain": ["Z11_Circuit Model", "Z11_EM Full Wave", "Z12_Circuit Model", "Z12_EM Full Wave"], "range": ["#0000ff", "#ff0000", "#0000ff", "#ff0000"]}, "legend": {"title": null, "orient": "none", "legendX": 195, "legendY": -4, "direction": "vertical", "labelColor": {"expr": "indexof('' + (datum ? datum.value : ''), 'EM') >= 0 ? '#ff0000' : '#0000ff'"}, "symbolType": {"expr": "indexof('' + (datum ? datum.value : ''), '12_') < 0 ? 'stroke' : indexof('' + (datum ? datum.value : ''), 'EM') < 0 ? 'M-1,0H1M-0.45,-0.45H0.45V0.45H-0.45Z' : 'M-1,0H1M0,-0.5L0.147,-0.202L0.476,-0.155L0.238,0.077L0.294,0.405L0,0.25L-0.294,0.405L-0.238,0.077L-0.476,-0.155L-0.147,-0.202Z'"}, "symbolFillColor": {"expr": "indexof('' + (datum ? datum.value : ''), '12_') < 0 ? 'transparent' : indexof('' + (datum ? datum.value : ''), 'EM') >= 0 ? '#ff0000' : '#0000ff'"}, "symbolDash": {"expr": "indexof('' + (datum ? datum.value : ''), '11_EM') >= 0 ? [3, 2.5] : [1, 0]"}}}}},
    {"transform": [{"fold": ["v11"], "as": ["s", "v"]}], "mark": {"type": "line", "interpolate": "monotone", "strokeWidth": 4, "strokeDash": [0.1, 7.5], "strokeCap": "round", "clip": true}, "encoding": {"color": {"datum": "Z11_EM Full Wave", "type": "nominal"}}},
    {"transform": [{"fold": ["v12"], "as": ["s", "v"]}], "mark": {"type": "line", "interpolate": "monotone", "strokeWidth": 3, "clip": true}, "encoding": {"color": {"datum": "Z12_Circuit Model", "type": "nominal"}}},
    {"transform": [{"fold": ["v12"], "as": ["s", "v"]}], "mark": {"type": "line", "interpolate": "monotone", "strokeWidth": 2.5, "strokeDash": [6, 4], "clip": true}, "encoding": {"color": {"datum": "Z12_EM Full Wave", "type": "nominal"}}},
    {"data": {"name": "d2m"}, "transform": [{"filter": "datum.k == 's'"}], "mark": {"type": "point", "shape": "square", "filled": true, "size": 85, "opacity": 1}, "encoding": {"color": {"datum": "Z12_Circuit Model", "type": "nominal"}}},
    {"data": {"name": "d2m"}, "transform": [{"filter": "datum.k == 't'"}], "mark": {"type": "point", "shape": "M0,-1L0.265,-0.364L0.951,-0.309L0.428,0.139L0.588,0.809L0,0.45L-0.588,0.809L-0.428,0.139L-0.951,-0.309L-0.265,-0.364Z", "filled": true, "size": 121, "opacity": 1}, "encoding": {"color": {"datum": "Z12_EM Full Wave", "type": "nominal"}}}
   ]},
  {"width": 470, "height": 128, "title": {"text": "Y [Real Part]", "dx": 43}, "data": {"name": "d3"},
   "encoding": {"x": {"field": "f", "type": "quantitative", "title": "Frequency / GHz", "scale": {"domain": [22, 26], "nice": false, "zero": false}, "axis": {"values": [22, 22.5, 23, 23.5, 24, 24.5, 25, 25.5, 26], "labelExpr": "'' + datum.value", "labelOverlap": false}},
    "y": {"field": "v", "type": "quantitative", "title": null, "scale": {"domain": [-0.002, 0.03], "nice": false, "zero": false}, "axis": {"values": [-0.002, 0.005, 0.01, 0.015, 0.02, 0.025, 0.03], "labelExpr": "'' + datum.value", "labelOverlap": false}}},
   "layer": [
    {"transform": [{"fold": ["v11"], "as": ["s", "v"]}], "mark": {"type": "line", "interpolate": "monotone", "strokeWidth": 5, "clip": true}, "encoding": {"color": {"datum": "Y11_Circuit Model", "type": "nominal", "scale": {"domain": ["Y11_Circuit Model", "Y11_EM Full Wave", "Y12_Circuit Model", "Y12_EM Full Wave"], "range": ["#0000ff", "#ff0000", "#0000ff", "#ff0000"]}, "legend": {"title": null, "orient": "none", "legendX": 100, "legendY": -20, "direction": "vertical", "labelColor": {"expr": "indexof('' + (datum ? datum.value : ''), 'EM') >= 0 ? '#ff0000' : '#0000ff'"}, "symbolType": {"expr": "indexof('' + (datum ? datum.value : ''), '12_') < 0 ? 'stroke' : indexof('' + (datum ? datum.value : ''), 'EM') < 0 ? 'M-1,0H1M-0.45,-0.45H0.45V0.45H-0.45Z' : 'M-1,0H1M0,-0.5L0.147,-0.202L0.476,-0.155L0.238,0.077L0.294,0.405L0,0.25L-0.294,0.405L-0.238,0.077L-0.476,-0.155L-0.147,-0.202Z'"}, "symbolFillColor": {"expr": "indexof('' + (datum ? datum.value : ''), '12_') < 0 ? 'transparent' : indexof('' + (datum ? datum.value : ''), 'EM') >= 0 ? '#ff0000' : '#0000ff'"}, "symbolDash": {"expr": "indexof('' + (datum ? datum.value : ''), '11_EM') >= 0 ? [3, 2.5] : [1, 0]"}}}}},
    {"transform": [{"fold": ["v11"], "as": ["s", "v"]}], "mark": {"type": "line", "interpolate": "monotone", "strokeWidth": 4, "strokeDash": [0.1, 7.5], "strokeCap": "round", "clip": true}, "encoding": {"color": {"datum": "Y11_EM Full Wave", "type": "nominal"}}},
    {"transform": [{"fold": ["v12"], "as": ["s", "v"]}], "mark": {"type": "line", "interpolate": "monotone", "strokeWidth": 3, "clip": true}, "encoding": {"color": {"datum": "Y12_Circuit Model", "type": "nominal"}}},
    {"transform": [{"fold": ["v12"], "as": ["s", "v"]}], "mark": {"type": "line", "interpolate": "monotone", "strokeWidth": 2.5, "strokeDash": [6, 4], "clip": true}, "encoding": {"color": {"datum": "Y12_EM Full Wave", "type": "nominal"}}},
    {"data": {"name": "d3m"}, "transform": [{"filter": "datum.k == 's'"}], "mark": {"type": "point", "shape": "square", "filled": true, "size": 85, "opacity": 1}, "encoding": {"color": {"datum": "Y12_Circuit Model", "type": "nominal"}}},
    {"data": {"name": "d3m"}, "transform": [{"filter": "datum.k == 't'"}], "mark": {"type": "point", "shape": "M0,-1L0.265,-0.364L0.951,-0.309L0.428,0.139L0.588,0.809L0,0.45L-0.588,0.809L-0.428,0.139L-0.951,-0.309L-0.265,-0.364Z", "filled": true, "size": 121, "opacity": 1}, "encoding": {"color": {"datum": "Y12_EM Full Wave", "type": "nominal"}}}
   ]},
  {"width": 468, "height": 127, "title": {"text": "Y [Imaginary Part]"}, "data": {"name": "d4"},
   "encoding": {"x": {"field": "f", "type": "quantitative", "title": "Frequency / GHz", "scale": {"domain": [22, 26], "nice": false, "zero": false}, "axis": {"values": [22, 22.5, 23, 23.5, 24, 24.5, 25, 25.5, 26], "labelExpr": "'' + datum.value", "labelOverlap": false}},
    "y": {"field": "v", "type": "quantitative", "title": null, "scale": {"domain": [-0.012, 0.005], "nice": false, "zero": false}, "axis": {"values": [-0.012, 0, 0.005], "labelExpr": "'' + datum.value", "labelOverlap": false}}},
   "layer": [
    {"transform": [{"fold": ["v11"], "as": ["s", "v"]}], "mark": {"type": "line", "interpolate": "monotone", "strokeWidth": 5, "clip": true}, "encoding": {"color": {"datum": "Y11_Circuit Model", "type": "nominal", "scale": {"domain": ["Y11_Circuit Model", "Y11_EM Full Wave", "Y12_Circuit Model", "Y12_EM Full Wave"], "range": ["#0000ff", "#ff0000", "#0000ff", "#ff0000"]}, "legend": {"title": null, "orient": "bottom-right", "offset": 0, "direction": "vertical", "labelColor": {"expr": "indexof('' + (datum ? datum.value : ''), 'EM') >= 0 ? '#ff0000' : '#0000ff'"}, "symbolType": {"expr": "indexof('' + (datum ? datum.value : ''), '12_') < 0 ? 'stroke' : indexof('' + (datum ? datum.value : ''), 'EM') < 0 ? 'M-1,0H1M-0.45,-0.45H0.45V0.45H-0.45Z' : 'M-1,0H1M0,-0.5L0.147,-0.202L0.476,-0.155L0.238,0.077L0.294,0.405L0,0.25L-0.294,0.405L-0.238,0.077L-0.476,-0.155L-0.147,-0.202Z'"}, "symbolFillColor": {"expr": "indexof('' + (datum ? datum.value : ''), '12_') < 0 ? 'transparent' : indexof('' + (datum ? datum.value : ''), 'EM') >= 0 ? '#ff0000' : '#0000ff'"}, "symbolDash": {"expr": "indexof('' + (datum ? datum.value : ''), '11_EM') >= 0 ? [3, 2.5] : [1, 0]"}}}}},
    {"transform": [{"fold": ["v11"], "as": ["s", "v"]}], "mark": {"type": "line", "interpolate": "monotone", "strokeWidth": 4, "strokeDash": [0.1, 7.5], "strokeCap": "round", "clip": true}, "encoding": {"color": {"datum": "Y11_EM Full Wave", "type": "nominal"}}},
    {"transform": [{"fold": ["v12"], "as": ["s", "v"]}], "mark": {"type": "line", "interpolate": "monotone", "strokeWidth": 3, "clip": true}, "encoding": {"color": {"datum": "Y12_Circuit Model", "type": "nominal"}}},
    {"transform": [{"fold": ["v12"], "as": ["s", "v"]}], "mark": {"type": "line", "interpolate": "monotone", "strokeWidth": 2.5, "strokeDash": [6, 4], "clip": true}, "encoding": {"color": {"datum": "Y12_EM Full Wave", "type": "nominal"}}},
    {"data": {"name": "d4m"}, "transform": [{"filter": "datum.k == 's'"}], "mark": {"type": "point", "shape": "square", "filled": true, "size": 85, "opacity": 1}, "encoding": {"color": {"datum": "Y12_Circuit Model", "type": "nominal"}}},
    {"data": {"name": "d4m"}, "transform": [{"filter": "datum.k == 't'"}], "mark": {"type": "point", "shape": "M0,-1L0.265,-0.364L0.951,-0.309L0.428,0.139L0.588,0.809L0,0.45L-0.588,0.809L-0.428,0.139L-0.951,-0.309L-0.265,-0.364Z", "filled": true, "size": 121, "opacity": 1}, "encoding": {"color": {"datum": "Y12_EM Full Wave", "type": "nominal"}}}
   ]}
 ], "spacing": 20, "title": {"text": "(d)", "orient": "bottom", "anchor": "middle", "fontWeight": "normal", "fontSize": 15, "offset": 12}, "resolve": {"scale": {"color": "independent"}, "legend": {"color": "independent"}}}
], "spacing": 51, "resolve": {"scale": {"color": "independent"}, "legend": {"color": "independent"}}}
],
"datasets": {
"a1": [{"f":8.7,"v11":33.6,"v12":1.5},{"f":8.8,"v11":29,"v12":-2},{"f":8.9,"v11":26,"v12":-4},{"f":9.0,"v11":23.6,"v12":-3.4},{"f":9.1,"v11":20,"v12":-2.3},{"f":9.2,"v11":17,"v12":-1.4},{"f":9.3,"v11":16.5,"v12":-1},{"f":9.4,"v11":18.5,"v12":-0.6},{"f":9.5,"v11":22,"v12":0},{"f":9.6,"v11":26.5,"v12":1},{"f":9.7,"v11":31,"v12":1.4},{"f":9.8,"v11":36.5,"v12":0},{"f":9.9,"v11":42,"v12":-2},{"f":10.0,"v11":51,"v12":-5},{"f":10.1,"v11":63.5,"v12":-7.7},{"f":10.2,"v11":78,"v12":-10.5},{"f":10.25,"v11":84,"v12":-8},{"f":10.3,"v11":88,"v12":-0.6},{"f":10.35,"v11":90,"v12":4},{"f":10.4,"v11":88,"v12":6.5},{"f":10.47,"v11":82,"v12":9.4},{"f":10.5,"v11":79,"v12":9.2},{"f":10.55,"v11":73,"v12":7},{"f":10.6,"v11":66,"v12":3.7},{"f":10.7,"v11":49,"v12":0.6},{"f":10.8,"v11":34.5,"v12":0.3},{"f":10.9,"v11":25,"v12":0.3},{"f":11.0,"v11":20,"v12":0},{"f":11.2,"v11":14,"v12":0},{"f":11.4,"v11":13,"v12":-0.2},{"f":11.5,"v11":13,"v12":-0.3},{"f":11.6,"v11":13.8,"v12":-0.5},{"f":11.7,"v11":15,"v12":-0.6}],
"a1m": [{"f":8.73,"v":1.3,"k":"s"},{"f":9.22,"v":-1.3,"k":"s"},{"f":9.7,"v":1.4,"k":"s"},{"f":10.2,"v":-10.5,"k":"s"},{"f":10.7,"v":0.6,"k":"s"},{"f":11.2,"v":0,"k":"s"},{"f":11.69,"v":-0.6,"k":"s"},{"f":8.73,"v":1.3,"k":"t"},{"f":9.31,"v":-1,"k":"t"},{"f":9.88,"v":-1.8,"k":"t"},{"f":10.47,"v":9.4,"k":"t"},{"f":11.05,"v":0,"k":"t"},{"f":11.63,"v":-0.5,"k":"t"}],
"a2": [{"f":8.7,"v11":-22.4,"v12":-10.3},{"f":8.8,"v11":-21.6,"v12":-6.8},{"f":8.9,"v11":-19.4,"v12":-3.4},{"f":9.0,"v11":-16,"v12":-1.1},{"f":9.1,"v11":-10.3,"v12":0},{"f":9.2,"v11":-4.6,"v12":0},{"f":9.3,"v11":1.1,"v12":0},{"f":9.4,"v11":6.8,"v12":-0.2},{"f":9.5,"v11":13,"v12":-0.5},{"f":9.6,"v11":18,"v12":-1},{"f":9.7,"v11":21.7,"v12":-1.8},{"f":9.8,"v11":24.6,"v12":-3},{"f":9.9,"v11":27.4,"v12":-4.6},{"f":10.0,"v11":29.7,"v12":-4.1},{"f":10.05,"v11":30.8,"v12":-2.5},{"f":10.1,"v11":29.7,"v12":0},{"f":10.15,"v11":25,"v12":4},{"f":10.2,"v11":17,"v12":8},{"f":10.25,"v11":6.8,"v12":11.9},{"f":10.3,"v11":-4.6,"v12":13.7},{"f":10.35,"v11":-15,"v12":12.6},{"f":10.4,"v11":-25,"v12":8},{"f":10.5,"v11":-38.6,"v12":0},{"f":10.6,"v11":-45.5,"v12":-3.4},{"f":10.65,"v11":-46,"v12":-3},{"f":10.7,"v11":-44.5,"v12":-2.3},{"f":10.8,"v11":-37.7,"v12":-0.7},{"f":10.9,"v11":-31,"v12":-0.3},{"f":11.0,"v11":-24,"v12":-0.2},{"f":11.1,"v11":-18.3,"v12":0},{"f":11.2,"v11":-12.6,"v12":0},{"f":11.3,"v11":-8,"v12":0},{"f":11.4,"v11":-3.4,"v12":0},{"f":11.5,"v11":1.1,"v12":0},{"f":11.6,"v11":4.6,"v12":0},{"f":11.7,"v11":8,"v12":0}],
"a2m": [{"f":8.73,"v":-10,"k":"s"},{"f":9.22,"v":0,"k":"s"},{"f":9.72,"v":-2,"k":"s"},{"f":10.22,"v":9.5,"k":"s"},{"f":10.7,"v":-2.3,"k":"s"},{"f":11.2,"v":0,"k":"s"},{"f":11.69,"v":0,"k":"s"},{"f":8.73,"v":-10,"k":"t"},{"f":9.3,"v":0,"k":"t"},{"f":9.9,"v":-4.6,"k":"t"},{"f":10.47,"v":2.3,"k":"t"},{"f":11.05,"v":0,"k":"t"},{"f":11.63,"v":0,"k":"t"}],
"a3": [{"f":8.7,"v11":0.0213,"v12":-0.0068},{"f":8.8,"v11":0.021,"v12":-0.0045},{"f":8.9,"v11":0.023,"v12":-0.0026},{"f":9.0,"v11":0.0277,"v12":-0.001},{"f":9.1,"v11":0.037,"v12":0.0008},{"f":9.2,"v11":0.0507,"v12":0.0033},{"f":9.27,"v11":0.061,"v12":0.0035},{"f":9.35,"v11":0.0576,"v12":0.0022},{"f":9.4,"v11":0.0496,"v12":0.0003},{"f":9.5,"v11":0.037,"v12":0},{"f":9.6,"v11":0.028,"v12":0.0002},{"f":9.7,"v11":0.023,"v12":0.0006},{"f":9.8,"v11":0.0196,"v12":0.0015},{"f":9.9,"v11":0.0174,"v12":0.002},{"f":10.0,"v11":0.015,"v12":0.0018},{"f":10.2,"v11":0.012,"v12":0.0012},{"f":10.4,"v11":0.011,"v12":0},{"f":10.6,"v11":0.0109,"v12":-0.0008},{"f":10.8,"v11":0.0116,"v12":-0.0006},{"f":10.9,"v11":0.0133,"v12":-0.0004},{"f":11.0,"v11":0.0174,"v12":-0.0003},{"f":11.1,"v11":0.0243,"v12":-0.0005},{"f":11.2,"v11":0.0346,"v12":-0.001},{"f":11.3,"v11":0.048,"v12":-0.0022},{"f":11.4,"v11":0.0668,"v12":0},{"f":11.5,"v11":0.078,"v12":0.0024},{"f":11.55,"v11":0.076,"v12":0.003},{"f":11.6,"v11":0.069,"v12":0.0031},{"f":11.7,"v11":0.0507,"v12":0.0013}],
"a3m": [{"f":8.72,"v":-0.0068,"k":"s"},{"f":9.02,"v":-0.001,"k":"s"},{"f":9.3,"v":0.003,"k":"s"},{"f":9.6,"v":0.0002,"k":"s"},{"f":9.9,"v":0.002,"k":"s"},{"f":10.18,"v":0.0012,"k":"s"},{"f":10.47,"v":-0.0006,"k":"s"},{"f":10.76,"v":-0.0006,"k":"s"},{"f":11.05,"v":-0.0003,"k":"s"},{"f":11.34,"v":-0.0015,"k":"s"},{"f":11.62,"v":0.0031,"k":"s"},{"f":8.72,"v":-0.0068,"k":"t"},{"f":9.05,"v":-0.0003,"k":"t"},{"f":9.37,"v":0.001,"k":"t"},{"f":9.68,"v":0.0005,"k":"t"},{"f":10.0,"v":0.0018,"k":"t"},{"f":10.33,"v":0.0004,"k":"t"},{"f":10.64,"v":-0.0008,"k":"t"},{"f":10.96,"v":-0.0004,"k":"t"},{"f":11.28,"v":-0.002,"k":"t"},{"f":11.6,"v":0.0031,"k":"t"}],
"a4": [{"f":8.7,"v11":0.0127,"v12":0.0018},{"f":8.8,"v11":0.015,"v12":0.0033},{"f":8.9,"v11":0.0187,"v12":0.004},{"f":9.0,"v11":0.0233,"v12":0.0045},{"f":9.1,"v11":0.026,"v12":0.0036},{"f":9.15,"v11":0.024,"v12":0.0027},{"f":9.2,"v11":0.016,"v12":0.0015},{"f":9.25,"v11":0.0069,"v12":0.0005},{"f":9.3,"v11":-0.0004,"v12":-0.0004},{"f":9.35,"v11":-0.0095,"v12":-0.0003},{"f":9.4,"v11":-0.015,"v12":0},{"f":9.5,"v11":-0.0204,"v12":0.0007},{"f":9.6,"v11":-0.0177,"v12":0.0015},{"f":9.7,"v11":-0.0146,"v12":0.0012},{"f":9.8,"v11":-0.0122,"v12":0.0007},{"f":9.9,"v11":-0.0104,"v12":0.0002},{"f":10.0,"v11":-0.008,"v12":-0.0004},{"f":10.2,"v11":-0.0025,"v12":-0.0011},{"f":10.4,"v11":0.003,"v12":-0.0007},{"f":10.6,"v11":0.0087,"v12":-0.0004},{"f":10.8,"v11":0.016,"v12":-0.0004},{"f":11.0,"v11":0.0255,"v12":-0.0004},{"f":11.1,"v11":0.0305,"v12":-0.0002},{"f":11.2,"v11":0.0351,"v12":0.0001},{"f":11.28,"v11":0.0375,"v12":0.0005},{"f":11.35,"v11":0.036,"v12":0.0012},{"f":11.4,"v11":0.0305,"v12":0.0018},{"f":11.45,"v11":0.0196,"v12":0.0032},{"f":11.5,"v11":0.0051,"v12":0.004},{"f":11.55,"v11":-0.0095,"v12":0.0024},{"f":11.6,"v11":-0.0204,"v12":0.0002},{"f":11.65,"v11":-0.0258,"v12":-0.0006},{"f":11.7,"v11":-0.028,"v12":-0.0011}],
"a4m": [{"f":8.72,"v":0.002,"k":"s"},{"f":9.02,"v":0.0045,"k":"s"},{"f":9.32,"v":-0.0004,"k":"s"},{"f":9.6,"v":0.0015,"k":"s"},{"f":9.9,"v":0.0002,"k":"s"},{"f":10.18,"v":-0.001,"k":"s"},{"f":10.47,"v":-0.0006,"k":"s"},{"f":10.76,"v":-0.0004,"k":"s"},{"f":11.05,"v":-0.0003,"k":"s"},{"f":11.34,"v":0.001,"k":"s"},{"f":11.63,"v":0,"k":"s"},{"f":8.72,"v":0.002,"k":"t"},{"f":9.04,"v":0.0042,"k":"t"},{"f":9.36,"v":-0.0003,"k":"t"},{"f":9.68,"v":0.0013,"k":"t"},{"f":10.0,"v":-0.0004,"k":"t"},{"f":10.32,"v":-0.0009,"k":"t"},{"f":10.64,"v":-0.0004,"k":"t"},{"f":10.96,"v":-0.0004,"k":"t"},{"f":11.28,"v":0.0005,"k":"t"},{"f":11.6,"v":0.0002,"k":"t"}],
"b1": [{"f":11.9,"v11":20.8,"v12":0.3},{"f":12.0,"v11":24.3,"v12":0.5},{"f":12.1,"v11":26.4,"v12":0.6},{"f":12.2,"v11":25,"v12":0.7},{"f":12.3,"v11":22,"v12":1},{"f":12.4,"v11":20.8,"v12":1.2},{"f":12.6,"v11":19,"v12":-0.6},{"f":12.8,"v11":19,"v12":-1.4},{"f":13.0,"v11":20.8,"v12":-1.4},{"f":13.2,"v11":25,"v12":0},{"f":13.3,"v11":29.4,"v12":0.5},{"f":13.4,"v11":37,"v12":1},{"f":13.5,"v11":46.5,"v12":1.2},{"f":13.6,"v11":60.7,"v12":0.8},{"f":13.7,"v11":80,"v12":0.3},{"f":13.8,"v11":103.5,"v12":-1.4},{"f":13.9,"v11":123,"v12":-1.4},{"f":14.0,"v11":138,"v12":1.6},{"f":14.07,"v11":143,"v12":5},{"f":14.15,"v11":144,"v12":4.8},{"f":14.2,"v11":140.8,"v12":3.7},{"f":14.3,"v11":129,"v12":-1.4},{"f":14.4,"v11":116.5,"v12":-5.7},{"f":14.5,"v11":102,"v12":-7.4},{"f":14.6,"v11":84,"v12":-4.8}],
"b1m": [{"f":11.92,"v":0.3,"k":"s"},{"f":12.36,"v":1.1,"k":"s"},{"f":12.8,"v":-1.4,"k":"s"},{"f":13.19,"v":0,"k":"s"},{"f":13.64,"v":0.6,"k":"s"},{"f":14.06,"v":5,"k":"s"},{"f":14.5,"v":-7.4,"k":"s"},{"f":11.92,"v":0.3,"k":"t"},{"f":12.44,"v":1,"k":"t"},{"f":12.96,"v":-1.4,"k":"t"},{"f":13.46,"v":1.2,"k":"t"},{"f":13.98,"v":1.2,"k":"t"},{"f":14.5,"v":-7.4,"k":"t"}],
"b2": [{"f":11.9,"v11":15,"v12":1.4},{"f":12.0,"v11":15,"v12":1.2},{"f":12.1,"v11":13.3,"v12":0.9},{"f":12.2,"v11":12.2,"v12":0.7},{"f":12.3,"v11":12.5,"v12":0},{"f":12.4,"v11":15,"v12":-1},{"f":12.5,"v11":17.5,"v12":-1},{"f":12.6,"v11":22.2,"v12":-1},{"f":12.8,"v11":31,"v12":0},{"f":13.0,"v11":41,"v12":0.7},{"f":13.2,"v11":52.5,"v12":2.1},{"f":13.4,"v11":66,"v12":0.7},{"f":13.5,"v11":72,"v12":0},{"f":13.6,"v11":77.6,"v12":-1},{"f":13.7,"v11":82.3,"v12":-0.8},{"f":13.75,"v11":82.3,"v12":-0.3},{"f":13.8,"v11":78.4,"v12":0.3},{"f":13.9,"v11":66.8,"v12":1.5},{"f":13.95,"v11":59,"v12":2.5},{"f":14.0,"v11":50.8,"v12":2.4},{"f":14.05,"v11":39,"v12":1.8},{"f":14.1,"v11":27.5,"v12":0},{"f":14.2,"v11":2.5,"v12":-4.6},{"f":14.3,"v11":-19,"v12":-7},{"f":14.4,"v11":-33,"v12":-4.6},{"f":14.5,"v11":-42,"v12":-0.4},{"f":14.6,"v11":-46,"v12":5}],
"b2m": [{"f":11.92,"v":1.4,"k":"s"},{"f":12.36,"v":-0.6,"k":"s"},{"f":12.79,"v":0,"k":"s"},{"f":13.2,"v":2.1,"k":"s"},{"f":13.63,"v":-1,"k":"s"},{"f":14.06,"v":1.6,"k":"s"},{"f":14.5,"v":-0.4,"k":"s"},{"f":11.92,"v":1.4,"k":"t"},{"f":12.45,"v":-1,"k":"t"},{"f":12.96,"v":0.6,"k":"t"},{"f":13.46,"v":0.3,"k":"t"},{"f":13.98,"v":2.5,"k":"t"},{"f":14.5,"v":-0.4,"k":"t"}],
"b3": [{"f":11.9,"v11":0.0327,"v12":-0.0006},{"f":12.0,"v11":0.0303,"v12":-0.0007},{"f":12.05,"v11":0.03,"v12":-0.0008},{"f":12.1,"v11":0.0303,"v12":-0.0008},{"f":12.2,"v11":0.0317,"v12":-0.001},{"f":12.3,"v11":0.0335,"v12":0.0005},{"f":12.35,"v11":0.0337,"v12":0.0012},{"f":12.4,"v11":0.0332,"v12":0.0019},{"f":12.5,"v11":0.0303,"v12":0.0022},{"f":12.6,"v11":0.025,"v12":0.0014},{"f":12.7,"v11":0.0192,"v12":0.0002},{"f":12.8,"v11":0.0154,"v12":-0.0006},{"f":12.9,"v11":0.0125,"v12":-0.0008},{"f":13.0,"v11":0.0104,"v12":-0.0007},{"f":13.1,"v11":0.0088,"v12":-0.0005},{"f":13.2,"v11":0.0077,"v12":-0.0004},{"f":13.3,"v11":0.0069,"v12":-0.0003},{"f":13.4,"v11":0.0064,"v12":-0.0002},{"f":13.6,"v11":0.0062,"v12":0},{"f":13.8,"v11":0.0062,"v12":0},{"f":14.0,"v11":0.0065,"v12":-0.0001},{"f":14.2,"v11":0.0072,"v12":-0.0003},{"f":14.4,"v11":0.008,"v12":0.0002},{"f":14.6,"v11":0.0091,"v12":0.0008}],
"b3m": [{"f":11.92,"v":-0.0006,"k":"s"},{"f":12.18,"v":-0.001,"k":"s"},{"f":12.44,"v":0.002,"k":"s"},{"f":12.7,"v":0.0002,"k":"s"},{"f":12.96,"v":-0.0008,"k":"s"},{"f":13.2,"v":-0.0004,"k":"s"},{"f":13.45,"v":-0.0002,"k":"s"},{"f":13.71,"v":0,"k":"s"},{"f":13.98,"v":-0.0001,"k":"s"},{"f":14.24,"v":-0.0002,"k":"s"},{"f":14.5,"v":0.0005,"k":"s"},{"f":11.92,"v":-0.0006,"k":"t"},{"f":12.2,"v":-0.001,"k":"t"},{"f":12.5,"v":0.0022,"k":"t"},{"f":12.79,"v":-0.0005,"k":"t"},{"f":13.05,"v":-0.0006,"k":"t"},{"f":13.34,"v":-0.0003,"k":"t"},{"f":13.63,"v":0,"k":"t"},{"f":13.92,"v":-0.0001,"k":"t"},{"f":14.22,"v":-0.0003,"k":"t"},{"f":14.5,"v":0.0005,"k":"t"}],
"b4": [{"f":11.9,"v11":-0.0222,"v12":-0.0005},{"f":12.0,"v11":-0.0189,"v12":0},{"f":12.1,"v11":-0.0163,"v12":0.0006},{"f":12.2,"v11":-0.015,"v12":0.0011},{"f":12.25,"v11":-0.0152,"v12":0.0016},{"f":12.3,"v11":-0.0163,"v12":0.002},{"f":12.35,"v11":-0.018,"v12":0.0021},{"f":12.4,"v11":-0.0204,"v12":0.0017},{"f":12.5,"v11":-0.0244,"v12":0},{"f":12.6,"v11":-0.0268,"v12":-0.0012},{"f":12.7,"v11":-0.0261,"v12":-0.0016},{"f":12.8,"v11":-0.0244,"v12":-0.0014},{"f":12.9,"v11":-0.022,"v12":-0.0007},{"f":13.0,"v11":-0.0195,"v12":-0.0004},{"f":13.2,"v11":-0.0141,"v12":0.0001},{"f":13.4,"v11":-0.0096,"v12":0.0002},{"f":13.6,"v11":-0.0061,"v12":0.0001},{"f":13.8,"v11":-0.0032,"v12":0},{"f":14.0,"v11":-0.0012,"v12":-0.0001},{"f":14.2,"v11":0.0011,"v12":0.0001},{"f":14.4,"v11":0.0029,"v12":0.0002},{"f":14.6,"v11":0.005,"v12":0.0001}],
"b4m": [{"f":11.92,"v":-0.0004,"k":"s"},{"f":12.18,"v":0.001,"k":"s"},{"f":12.44,"v":0.0013,"k":"s"},{"f":12.7,"v":-0.0016,"k":"s"},{"f":12.96,"v":-0.0005,"k":"s"},{"f":13.2,"v":0.0001,"k":"s"},{"f":13.46,"v":0.0002,"k":"s"},{"f":13.71,"v":0,"k":"s"},{"f":13.97,"v":-0.0001,"k":"s"},{"f":14.23,"v":0.0001,"k":"s"},{"f":14.5,"v":0.0002,"k":"s"},{"f":11.92,"v":-0.0004,"k":"t"},{"f":12.2,"v":0.0011,"k":"t"},{"f":12.5,"v":0,"k":"t"},{"f":12.79,"v":-0.0014,"k":"t"},{"f":13.05,"v":-0.0003,"k":"t"},{"f":13.34,"v":0.0002,"k":"t"},{"f":13.63,"v":0.0001,"k":"t"},{"f":13.92,"v":0,"k":"t"},{"f":14.2,"v":0.0001,"k":"t"},{"f":14.5,"v":0.0002,"k":"t"}],
"c1": [{"f":15.6,"v11":1.33,"v12":1.33},{"f":15.65,"v11":1.22,"v12":1.22},{"f":15.7,"v11":0.92,"v12":0.92},{"f":15.75,"v11":0.33,"v12":0.33},{"f":15.8,"v11":-0.25,"v12":-0.25},{"f":15.85,"v11":-1.3,"v12":-1.3},{"f":15.9,"v11":-2.0,"v12":-2.0},{"f":15.95,"v11":-2.5,"v12":-2.5},{"f":16.0,"v11":-2.92,"v12":-2.92},{"f":16.05,"v11":-3.21,"v12":-3.21},{"f":16.1,"v11":-3.39,"v12":-3.39},{"f":16.15,"v11":-3.42,"v12":-3.42},{"f":16.2,"v11":-3.27,"v12":-3.27},{"f":16.3,"v11":-2.74,"v12":-2.74},{"f":16.4,"v11":-2.2,"v12":-2.2},{"f":16.5,"v11":-1.68,"v12":-1.68},{"f":16.6,"v11":-1.2,"v12":-1.2},{"f":16.7,"v11":-0.85,"v12":-0.85},{"f":16.8,"v11":-0.5,"v12":-0.5},{"f":16.9,"v11":-0.2,"v12":-0.2},{"f":17.0,"v11":0.12,"v12":0.12}],
"c1m": [{"f":15.63,"v":1.25,"k":"s"},{"f":15.86,"v":-1.45,"k":"s"},{"f":16.1,"v":-3.39,"k":"s"},{"f":16.33,"v":-2.6,"k":"s"},{"f":16.56,"v":-1.38,"k":"s"},{"f":16.79,"v":-0.53,"k":"s"},{"f":15.63,"v":1.25,"k":"t"},{"f":15.92,"v":-2.2,"k":"t"},{"f":16.21,"v":-3.25,"k":"t"},{"f":16.5,"v":-1.68,"k":"t"},{"f":16.79,"v":-0.53,"k":"t"}],
"c2": [{"f":15.6,"v11":-9.6,"v12":-2.4},{"f":15.7,"v11":-13,"v12":-3.3},{"f":15.8,"v11":-15.6,"v12":-3.7},{"f":15.9,"v11":-17.2,"v12":-3.3},{"f":16.0,"v11":-17.4,"v12":-2.4},{"f":16.1,"v11":-16.2,"v12":-1.1},{"f":16.2,"v11":-13.6,"v12":0.1},{"f":16.3,"v11":-10.6,"v12":1},{"f":16.4,"v11":-7.2,"v12":1.5},{"f":16.5,"v11":-3.7,"v12":1.7},{"f":16.6,"v11":-0.5,"v12":1.9},{"f":16.7,"v11":2.8,"v12":1.9},{"f":16.8,"v11":5.8,"v12":1.9},{"f":16.9,"v11":8.4,"v12":1.9},{"f":17.0,"v11":10.6,"v12":1.9},{"f":17.04,"v11":11.4,"v12":1.9}],
"c2m": [{"f":15.63,"v":-2.6,"k":"s"},{"f":15.86,"v":-3.6,"k":"s"},{"f":16.09,"v":-1.2,"k":"s"},{"f":16.32,"v":1.1,"k":"s"},{"f":16.55,"v":1.8,"k":"s"},{"f":16.79,"v":1.9,"k":"s"},{"f":17.02,"v":1.9,"k":"s"},{"f":15.63,"v":-2.6,"k":"t"},{"f":15.92,"v":-3.2,"k":"t"},{"f":16.2,"v":0.1,"k":"t"},{"f":16.5,"v":1.7,"k":"t"},{"f":16.73,"v":1.9,"k":"t"}],
"c3": [{"f":15.6,"v11":0.0172,"v12":-0.0006},{"f":15.7,"v11":0.0166,"v12":-0.0006},{"f":15.8,"v11":0.0169,"v12":-0.0006},{"f":15.9,"v11":0.0178,"v12":-0.0004},{"f":16.0,"v11":0.0189,"v12":0.0001},{"f":16.1,"v11":0.0205,"v12":0.0008},{"f":16.2,"v11":0.0225,"v12":0.0014},{"f":16.3,"v11":0.0243,"v12":0.0018},{"f":16.4,"v11":0.0258,"v12":0.0018},{"f":16.5,"v11":0.0266,"v12":0.0014},{"f":16.6,"v11":0.0269,"v12":0.0008},{"f":16.7,"v11":0.0263,"v12":0.0004},{"f":16.8,"v11":0.0249,"v12":-0.0001},{"f":16.9,"v11":0.0233,"v12":-0.0005},{"f":17.0,"v11":0.0215,"v12":-0.0006}],
"c3m": [{"f":15.63,"v":-0.0006,"k":"s"},{"f":15.77,"v":-0.0006,"k":"s"},{"f":15.92,"v":-0.0004,"k":"s"},{"f":16.06,"v":0.0005,"k":"s"},{"f":16.2,"v":0.0014,"k":"s"},{"f":16.35,"v":0.0018,"k":"s"},{"f":16.49,"v":0.0015,"k":"s"},{"f":16.64,"v":0.0006,"k":"s"},{"f":16.79,"v":-0.0002,"k":"s"},{"f":16.93,"v":-0.0005,"k":"s"},{"f":15.63,"v":-0.0006,"k":"t"},{"f":15.77,"v":-0.0006,"k":"t"},{"f":15.92,"v":-0.0004,"k":"t"},{"f":16.06,"v":0.0005,"k":"t"},{"f":16.2,"v":0.0014,"k":"t"},{"f":16.35,"v":0.0018,"k":"t"},{"f":16.49,"v":0.0015,"k":"t"},{"f":16.64,"v":0.0006,"k":"t"},{"f":16.79,"v":-0.0002,"k":"t"},{"f":16.93,"v":-0.0005,"k":"t"}],
"c4": [{"f":15.6,"v11":0.0029,"v12":0.0006},{"f":15.7,"v11":0.0038,"v12":0.0008},{"f":15.8,"v11":0.0049,"v12":0.0011},{"f":15.9,"v11":0.006,"v12":0.0013},{"f":16.0,"v11":0.0067,"v12":0.0015},{"f":16.1,"v11":0.0073,"v12":0.0015},{"f":16.15,"v11":0.0074,"v12":0.0014},{"f":16.2,"v11":0.0073,"v12":0.0011},{"f":16.3,"v11":0.0066,"v12":0.0005},{"f":16.4,"v11":0.0053,"v12":-0.0002},{"f":16.5,"v11":0.0033,"v12":-0.0008},{"f":16.6,"v11":0.001,"v12":-0.0012},{"f":16.65,"v11":-0.0003,"v12":-0.0013},{"f":16.7,"v11":-0.0015,"v12":-0.0013},{"f":16.8,"v11":-0.0033,"v12":-0.0012},{"f":16.9,"v11":-0.0044,"v12":-0.0011},{"f":17.0,"v11":-0.0049,"v12":-0.0009}],
"c4m": [{"f":15.63,"v":0.0006,"k":"s"},{"f":15.77,"v":0.0009,"k":"s"},{"f":15.92,"v":0.0013,"k":"s"},{"f":16.06,"v":0.0015,"k":"s"},{"f":16.21,"v":0.001,"k":"s"},{"f":16.35,"v":0.0001,"k":"s"},{"f":16.5,"v":-0.0008,"k":"s"},{"f":16.64,"v":-0.0013,"k":"s"},{"f":16.79,"v":-0.0012,"k":"s"},{"f":16.93,"v":-0.001,"k":"s"},{"f":15.63,"v":0.0006,"k":"t"},{"f":15.77,"v":0.0009,"k":"t"},{"f":15.92,"v":0.0013,"k":"t"},{"f":16.06,"v":0.0015,"k":"t"},{"f":16.21,"v":0.001,"k":"t"},{"f":16.35,"v":0.0001,"k":"t"},{"f":16.5,"v":-0.0008,"k":"t"},{"f":16.64,"v":-0.0013,"k":"t"},{"f":16.79,"v":-0.0012,"k":"t"},{"f":16.93,"v":-0.001,"k":"t"}],
"d1": [{"f":22.0,"v11":31.7,"v12":0},{"f":22.2,"v11":34,"v12":-0.7},{"f":22.4,"v11":37,"v12":-1.2},{"f":22.6,"v11":41,"v12":-0.7},{"f":22.8,"v11":46.8,"v12":1.2},{"f":23.0,"v11":55.5,"v12":3.5},{"f":23.1,"v11":61,"v12":3},{"f":23.2,"v11":66,"v12":0.7},{"f":23.35,"v11":73,"v12":-2.3},{"f":23.5,"v11":78.5,"v12":-3.5},{"f":23.6,"v11":80.3,"v12":-2.3},{"f":23.65,"v11":80.5,"v12":-1.5},{"f":23.8,"v11":75.2,"v12":0.7},{"f":24.0,"v11":62.5,"v12":1.9},{"f":24.2,"v11":52,"v12":1.2},{"f":24.4,"v11":47,"v12":0},{"f":24.6,"v11":45.8,"v12":-1.2},{"f":24.8,"v11":47.5,"v12":-1.9},{"f":25.0,"v11":51,"v12":-1.9},{"f":25.2,"v11":54.4,"v12":-0.7},{"f":25.4,"v11":56.5,"v12":1.6},{"f":25.5,"v11":56.3,"v12":2.3},{"f":25.6,"v11":54.9,"v12":2.1},{"f":25.8,"v11":50.2,"v12":1.2},{"f":26.0,"v11":45.6,"v12":0.7}],
"d1m": [{"f":22.02,"v":0,"k":"s"},{"f":22.67,"v":-0.3,"k":"s"},{"f":23.34,"v":-2.2,"k":"s"},{"f":24.0,"v":1.9,"k":"s"},{"f":24.67,"v":-1.4,"k":"s"},{"f":25.33,"v":1,"k":"s"},{"f":22.02,"v":0,"k":"t"},{"f":22.79,"v":1.1,"k":"t"},{"f":23.57,"v":-2.8,"k":"t"},{"f":24.35,"v":0.3,"k":"t"},{"f":25.13,"v":-1.1,"k":"t"},{"f":25.92,"v":0.9,"k":"t"}],
"d2": [{"f":22.0,"v11":11.4,"v12":-0.4},{"f":22.2,"v11":15.6,"v12":-0.3},{"f":22.4,"v11":19.5,"v12":0.6},{"f":22.6,"v11":23,"v12":1.7},{"f":22.7,"v11":24.6,"v12":2.2},{"f":22.8,"v11":26.2,"v12":1.9},{"f":23.0,"v11":29,"v12":-0.4},{"f":23.1,"v11":28.8,"v12":-1.6},{"f":23.2,"v11":26.6,"v12":-2.6},{"f":23.3,"v11":23,"v12":-3},{"f":23.4,"v11":18.8,"v12":-1.9},{"f":23.5,"v11":13.6,"v12":0.6},{"f":23.6,"v11":5.8,"v12":2.2},{"f":23.7,"v11":-1.9,"v12":2},{"f":23.8,"v11":-8.4,"v12":1.3},{"f":23.9,"v11":-14.3,"v12":0.6},{"f":24.0,"v11":-16.9,"v12":0},{"f":24.1,"v11":-16.2,"v12":-0.5},{"f":24.2,"v11":-13.6,"v12":-0.9},{"f":24.4,"v11":-7.1,"v12":-1.6},{"f":24.6,"v11":-0.6,"v12":-1.7},{"f":24.8,"v11":3.2,"v12":-0.6},{"f":25.0,"v11":3.9,"v12":1},{"f":25.1,"v11":3.2,"v12":1.8},{"f":25.2,"v11":1.3,"v12":2.6},{"f":25.35,"v11":-2,"v12":3},{"f":25.5,"v11":-4.8,"v12":1.9},{"f":25.6,"v11":-6.1,"v12":1.2},{"f":25.75,"v11":-6.9,"v12":0.2},{"f":25.9,"v11":-5.8,"v12":-0.6},{"f":26.0,"v11":-3.9,"v12":-0.9}],
"d2m": [{"f":22.0,"v":-0.4,"k":"s"},{"f":22.68,"v":2.2,"k":"s"},{"f":23.34,"v":-3,"k":"s"},{"f":24.01,"v":0,"k":"s"},{"f":24.68,"v":-1.5,"k":"s"},{"f":25.35,"v":3,"k":"s"},{"f":22.01,"v":-0.4,"k":"t"},{"f":22.8,"v":1.9,"k":"t"},{"f":23.58,"v":2,"k":"t"},{"f":24.36,"v":-1.5,"k":"t"},{"f":25.14,"v":2.2,"k":"t"},{"f":25.92,"v":-0.7,"k":"t"}],
"d3": [{"f":22.0,"v11":0.0283,"v12":0.0003},{"f":22.2,"v11":0.0254,"v12":0.0006},{"f":22.4,"v11":0.0225,"v12":0.0003},{"f":22.6,"v11":0.0198,"v12":-0.0004},{"f":22.8,"v11":0.0175,"v12":-0.0008},{"f":23.0,"v11":0.0154,"v12":-0.0004},{"f":23.2,"v11":0.0139,"v12":0.0003},{"f":23.4,"v11":0.0129,"v12":0.0006},{"f":23.6,"v11":0.0125,"v12":0.0004},{"f":23.8,"v11":0.0133,"v12":-0.0001},{"f":24.0,"v11":0.0152,"v12":-0.0004},{"f":24.2,"v11":0.0183,"v12":-0.0004},{"f":24.4,"v11":0.0208,"v12":-0.0003},{"f":24.55,"v11":0.0221,"v12":0.0002},{"f":24.7,"v11":0.0213,"v12":0.0006},{"f":24.9,"v11":0.0198,"v12":0.001},{"f":25.0,"v11":0.0192,"v12":0.0011},{"f":25.1,"v11":0.0185,"v12":0.0008},{"f":25.3,"v11":0.0179,"v12":0},{"f":25.4,"v11":0.0179,"v12":-0.0003},{"f":25.6,"v11":0.0185,"v12":-0.0005},{"f":25.8,"v11":0.02,"v12":-0.0005},{"f":26.0,"v11":0.0222,"v12":-0.0004}],
"d3m": [{"f":22.02,"v":0.0003,"k":"s"},{"f":22.39,"v":0.0003,"k":"s"},{"f":22.77,"v":-0.0007,"k":"s"},{"f":23.14,"v":0.0001,"k":"s"},{"f":23.51,"v":0.0005,"k":"s"},{"f":23.89,"v":-0.0003,"k":"s"},{"f":24.26,"v":-0.0004,"k":"s"},{"f":24.64,"v":0.0005,"k":"s"},{"f":25.01,"v":0.0011,"k":"s"},{"f":25.39,"v":-0.0003,"k":"s"},{"f":25.77,"v":-0.0005,"k":"s"},{"f":22.02,"v":0.0003,"k":"t"},{"f":22.45,"v":0.0002,"k":"t"},{"f":22.88,"v":-0.0007,"k":"t"},{"f":23.31,"v":0.0005,"k":"t"},{"f":23.75,"v":0.0001,"k":"t"},{"f":24.18,"v":-0.0004,"k":"t"},{"f":24.61,"v":0.0004,"k":"t"},{"f":25.04,"v":0.0011,"k":"t"},{"f":25.48,"v":-0.0004,"k":"t"},{"f":25.92,"v":-0.0004,"k":"t"}],
"d4": [{"f":22.0,"v11":-0.0101,"v12":0.0003},{"f":22.1,"v11":-0.0108,"v12":0},{"f":22.2,"v11":-0.0113,"v12":-0.0002},{"f":22.3,"v11":-0.0115,"v12":-0.0005},{"f":22.4,"v11":-0.0114,"v12":-0.0007},{"f":22.5,"v11":-0.011,"v12":-0.0008},{"f":22.6,"v11":-0.0102,"v12":-0.0006},{"f":22.8,"v11":-0.0087,"v12":0},{"f":23.0,"v11":-0.0069,"v12":0.0006},{"f":23.2,"v11":-0.0047,"v12":0.0006},{"f":23.4,"v11":-0.0025,"v12":0.0002},{"f":23.6,"v11":0,"v12":-0.0002},{"f":23.8,"v11":0.0025,"v12":-0.0004},{"f":24.0,"v11":0.0042,"v12":-0.0003},{"f":24.2,"v11":0.005,"v12":0},{"f":24.3,"v11":0.0045,"v12":0.0002},{"f":24.4,"v11":0.0031,"v12":0.0004},{"f":24.5,"v11":0.0018,"v12":0.0007},{"f":24.6,"v11":0.0007,"v12":0.001},{"f":24.75,"v11":-0.0004,"v12":0.0008},{"f":24.95,"v11":-0.0013,"v12":-0.0003},{"f":25.1,"v11":-0.0009,"v12":-0.0007},{"f":25.3,"v11":0.0009,"v12":-0.0007},{"f":25.5,"v11":0.0018,"v12":-0.0005},{"f":25.7,"v11":0.0025,"v12":-0.0002},{"f":25.8,"v11":0.0027,"v12":0},{"f":25.9,"v11":0.0026,"v12":0.0002},{"f":26.0,"v11":0.0019,"v12":0.0003}],
"d4m": [{"f":22.0,"v":0.0003,"k":"s"},{"f":22.38,"v":-0.0007,"k":"s"},{"f":22.76,"v":-0.0001,"k":"s"},{"f":23.14,"v":0.0006,"k":"s"},{"f":23.51,"v":0,"k":"s"},{"f":23.9,"v":-0.0004,"k":"s"},{"f":24.27,"v":0.0002,"k":"s"},{"f":24.64,"v":0.001,"k":"s"},{"f":25.02,"v":-0.0006,"k":"s"},{"f":25.4,"v":-0.0006,"k":"s"},{"f":25.78,"v":0,"k":"s"},{"f":22.02,"v":0.0003,"k":"t"},{"f":22.45,"v":-0.0008,"k":"t"},{"f":22.88,"v":0.0003,"k":"t"},{"f":23.31,"v":0.0004,"k":"t"},{"f":23.75,"v":-0.0003,"k":"t"},{"f":24.18,"v":0,"k":"t"},{"f":24.61,"v":0.001,"k":"t"},{"f":25.05,"v":-0.0007,"k":"t"},{"f":25.48,"v":-0.0005,"k":"t"},{"f":25.92,"v":0.0002,"k":"t"}]
}
}
